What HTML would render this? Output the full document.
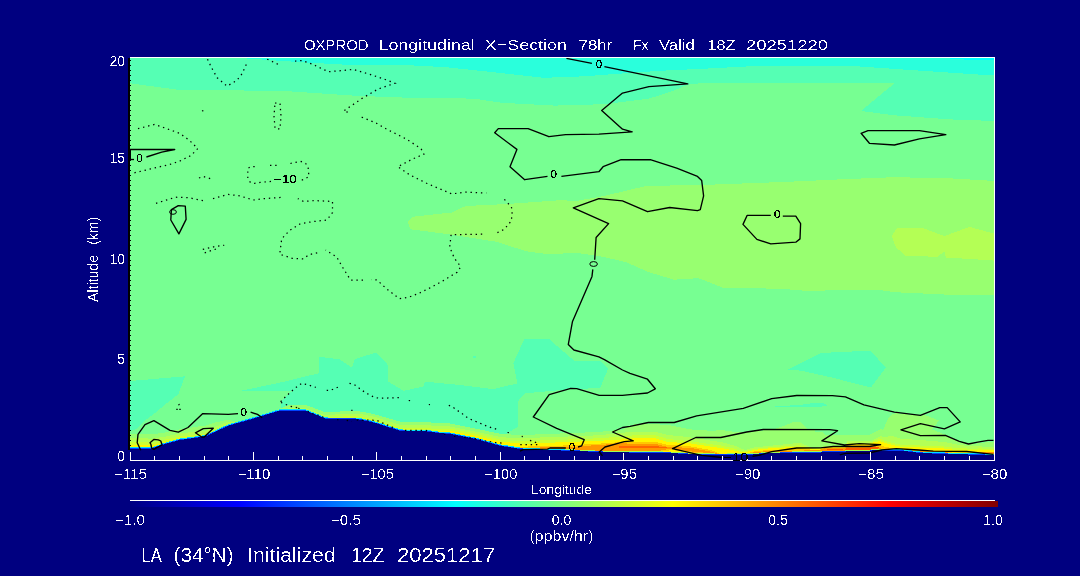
<!DOCTYPE html>
<html><head><meta charset="utf-8"><title>OXPROD</title>
<style>html,body{margin:0;padding:0;background:#000080;overflow:hidden}svg{display:block}text{font-family:"Liberation Sans",sans-serif}</style></head>
<body>
<svg width="1080" height="576" viewBox="0 0 1080 576">
<defs><clipPath id="pc"><rect x="130" y="58" width="864" height="402"/></clipPath>
<filter id="crisp" x="0" y="0" width="1080" height="576" filterUnits="userSpaceOnUse" color-interpolation-filters="sRGB"><feComponentTransfer><feFuncA type="discrete" tableValues="0 0 0 0 0 0 1 1 1 1"/></feComponentTransfer></filter>
<filter id="crisp2" x="0" y="0" width="1080" height="576" filterUnits="userSpaceOnUse" color-interpolation-filters="sRGB"><feComponentTransfer><feFuncA type="discrete" tableValues="0 0 0 1 1 1 1 1"/></feComponentTransfer></filter>
<linearGradient id="cb" x1="0" x2="1" y1="0" y2="0"><stop offset="0.000" stop-color="#000080"/><stop offset="0.025" stop-color="#000099"/><stop offset="0.050" stop-color="#0000B2"/><stop offset="0.075" stop-color="#0000CC"/><stop offset="0.100" stop-color="#0000E6"/><stop offset="0.125" stop-color="#0000FF"/><stop offset="0.150" stop-color="#001AFF"/><stop offset="0.175" stop-color="#0033FF"/><stop offset="0.200" stop-color="#004DFF"/><stop offset="0.225" stop-color="#0066FF"/><stop offset="0.250" stop-color="#0080FF"/><stop offset="0.275" stop-color="#0099FF"/><stop offset="0.300" stop-color="#00B2FF"/><stop offset="0.325" stop-color="#00CCFF"/><stop offset="0.350" stop-color="#00E5FF"/><stop offset="0.375" stop-color="#00FFFF"/><stop offset="0.400" stop-color="#1AFFE5"/><stop offset="0.425" stop-color="#33FFCC"/><stop offset="0.450" stop-color="#4DFFB2"/><stop offset="0.475" stop-color="#66FF99"/><stop offset="0.500" stop-color="#80FF80"/><stop offset="0.525" stop-color="#99FF66"/><stop offset="0.550" stop-color="#B3FF4C"/><stop offset="0.575" stop-color="#CCFF33"/><stop offset="0.600" stop-color="#E5FF1A"/><stop offset="0.625" stop-color="#FFFF00"/><stop offset="0.650" stop-color="#FFE500"/><stop offset="0.675" stop-color="#FFCC00"/><stop offset="0.700" stop-color="#FFB300"/><stop offset="0.725" stop-color="#FF9900"/><stop offset="0.750" stop-color="#FF8000"/><stop offset="0.775" stop-color="#FF6600"/><stop offset="0.800" stop-color="#FF4C00"/><stop offset="0.825" stop-color="#FF3300"/><stop offset="0.850" stop-color="#FF1A00"/><stop offset="0.875" stop-color="#FF0000"/><stop offset="0.900" stop-color="#E50000"/><stop offset="0.925" stop-color="#CC0000"/><stop offset="0.950" stop-color="#B30000"/><stop offset="0.975" stop-color="#990000"/><stop offset="1.000" stop-color="#800000"/></linearGradient></defs>
<rect width="1080" height="576" fill="#000080"/>
<g clip-path="url(#pc)" shape-rendering="crispEdges">
<rect x="130" y="57" width="865" height="404" fill="#77FF92"/>
<polygon points="130.0,57.0 130.0,83.3 179.7,90.0 281.0,90.8 356.0,95.8 410.0,97.8 473.9,98.6 501.7,102.8 554.4,105.6 604.4,104.2 648.9,98.6 671.0,91.7 687.8,84.7 700.0,83.3 894.4,83.3 861.0,111.0 894.4,115.3 950.0,119.4 995.0,121.0 995.0,57.0" fill="#55FFB4"/>
<polygon points="225.5,57.0 297.8,62.0 356.0,65.3 410.0,65.3 446.0,67.2 493.3,72.2 543.3,77.8 582.2,76.4 621.0,73.6 660.0,70.8 700.0,68.9 755.6,66.0 852.8,66.0 922.2,70.8 995.0,75.6 995.0,57.0" fill="#2AFFDC"/>
<polygon points="943.0,58.0 995.0,58.0 995.0,60.2 965.0,59.6" fill="#00FFFF"/>
<polygon points="408.0,222.0 412.8,216.7 451.7,212.5 465.6,206.0 507.0,204.0 562.8,200.0 573.9,201.4 604.0,196.0 646.0,186.0 710.0,184.7 783.0,182.0 844.0,179.2 894.0,177.2 950.0,178.3 995.0,181.0 995.0,295.3 961.0,295.3 894.4,292.2 877.8,289.7 805.6,290.8 783.3,288.9 722.2,287.5 700.0,278.6 696.0,278.3 673.9,279.7 648.9,272.2 626.7,262.5 604.4,257.0 576.7,252.8 548.9,254.2 526.7,251.4 496.0,241.7 451.7,234.7 410.0,229.2" fill="#98FF70"/>
<polygon points="891.7,236.1 897.2,227.8 922.2,227.8 944.4,236.1 969.4,226.9 995.0,233.9 995.0,260.6 945.8,257.5 944.4,251.4 937.5,256.9 905.6,255.6 895.8,247.2" fill="#B4FF55"/>
<polygon points="130.0,381.0 185.0,376.3 178.3,394.2 166.7,403.3 156.7,411.7 146.0,419.8 137.5,428.2 130.0,431.5" fill="#55FFB4"/>
<polygon points="240.8,390.8 278.3,383.0 318.6,373.3 318.6,356.7 339.4,359.4 352.0,367.8 354.7,359.4 375.6,352.5 388.0,365.0 388.3,381.7 403.3,390.8 423.3,386.7 425.0,381.7 460.0,385.0 493.3,389.2 517.5,383.3 513.3,363.3 524.2,339.2 549.2,339.2 574.2,360.8 600.0,360.8 608.3,368.3 600.0,388.3 576.7,388.7 550.0,391.0 525.0,393.3 517.5,401.7 518.3,426.7 506.7,433.3 500.0,452.0 281.0,452.0 281.0,401.0 290.0,392.0 295.0,390.5" fill="#55FFB4"/>
<polygon points="788.3,369.5 820.8,353.0 858.3,351.2 870.8,351.2 885.8,367.5 870.8,387.5 831.7,377.5 801.7,370.8" fill="#55FFB4"/>
<polygon points="473.0,356.0 476.5,355.5 476.0,357.5 473.5,357.5" fill="#55FFB4"/>
<polygon points="775.0,406.0 796.7,405.3 815.0,402.8 822.5,402.8 827.5,405.3 821.7,406.7 796.7,407.0 775.0,406.7" fill="#55FFB4"/>
<polygon points="743.0,441.3 753.0,441.5 752.0,443.0 744.0,443.0" fill="#55FFB4"/>
<polygon points="870.0,436.0 883.3,429.5 888.3,417.8 892.0,414.0 896.3,413.2 919.4,415.7 925.3,415.2 938.9,420.5 932.0,429.3 943.7,434.1 958.3,441.9 968.0,444.3 977.7,443.4 995.0,441.4 995.0,457.0 870.0,457.0" fill="#98FF70"/>
<polygon points="772.0,430.0 786.0,425.0 795.0,421.5 801.0,422.5 808.0,429.0 815.0,430.0 815.0,450.0 772.0,450.0" fill="#98FF70"/>
<polygon points="130.0,449.5 132.5,449.5 135.0,449.5 137.5,449.6 140.0,449.6 142.5,449.6 145.0,449.6 147.5,449.7 150.0,449.7 152.5,449.4 155.0,448.6 157.5,447.7 160.0,446.9 162.5,446.0 165.0,445.2 167.5,444.5 170.0,443.8 172.5,443.1 175.0,442.4 177.5,441.7 180.0,441.0 182.5,440.7 185.0,440.3 187.5,440.0 190.0,439.6 192.5,439.3 195.0,439.0 197.5,438.6 200.0,438.3 202.5,438.0 205.0,437.7 207.5,436.5 210.0,435.4 212.5,434.2 215.0,433.0 217.5,431.9 220.0,430.7 222.5,429.5 225.0,428.3 227.5,427.2 230.0,426.3 232.5,425.6 235.0,424.9 237.5,424.2 240.0,423.5 242.5,422.8 245.0,422.1 247.5,421.4 250.0,420.7 252.5,420.0 255.0,419.2 257.5,418.5 260.0,417.8 262.5,417.0 265.0,416.3 267.5,415.5 270.0,414.7 272.5,413.9 275.0,413.1 277.5,412.3 280.0,411.9 282.5,411.9 285.0,411.8 287.5,411.7 290.0,411.7 292.5,411.6 295.0,411.6 297.5,411.6 300.0,411.6 302.5,411.6 305.0,411.6 307.5,412.6 310.0,413.6 312.5,414.6 315.0,415.6 317.5,416.6 320.0,417.7 322.5,418.7 325.0,419.7 327.5,420.0 330.0,420.0 332.5,420.0 335.0,420.0 337.5,420.0 340.0,420.0 342.5,420.0 345.0,420.0 347.5,420.0 350.0,420.0 352.5,420.0 355.0,420.0 357.5,420.2 360.0,420.7 362.5,421.2 365.0,421.8 367.5,422.3 370.0,422.8 372.5,423.3 375.0,424.0 377.5,424.8 380.0,425.6 382.5,426.3 385.0,427.1 387.5,427.9 390.0,428.7 392.5,429.4 395.0,430.2 397.5,431.0 400.0,431.8 402.5,432.0 405.0,432.1 407.5,432.1 410.0,432.1 412.5,432.2 415.0,432.2 417.5,432.3 420.0,432.3 422.5,432.3 425.0,432.4 427.5,432.5 430.0,432.8 432.5,433.2 435.0,433.5 437.5,433.9 440.0,434.2 442.5,434.4 445.0,434.6 447.5,434.8 450.0,435.0 452.5,435.5 455.0,436.0 457.5,436.5 460.0,437.0 462.5,437.5 465.0,438.0 467.5,438.5 470.0,439.0 472.5,439.5 475.0,440.0 477.5,440.7 480.0,441.4 482.5,442.0 485.0,442.7 487.5,443.4 490.0,444.1 492.5,444.8 495.0,445.4 497.5,446.1 500.0,446.8 502.5,447.2 505.0,447.6 507.5,448.0 510.0,448.4 512.5,448.8 515.0,449.2 517.5,449.6 520.0,450.0 522.5,450.1 525.0,450.2 527.5,450.4 530.0,450.5 532.5,450.6 535.0,450.8 537.5,450.9 540.0,451.0 542.5,451.1 545.0,451.1 547.5,451.2 550.0,451.2 552.5,451.3 555.0,451.4 557.5,451.4 560.0,451.5 562.5,451.5 565.0,451.6 567.5,451.7 570.0,451.7 572.5,451.8 575.0,451.9 577.5,452.0 580.0,452.1 582.5,452.3 585.0,452.4 587.5,452.5 590.0,452.6 592.5,452.7 595.0,452.9 597.5,453.0 600.0,453.0 602.5,453.1 605.0,453.1 607.5,453.2 610.0,453.2 612.5,453.2 615.0,453.3 617.5,453.3 620.0,453.4 622.5,453.4 625.0,453.4 627.5,453.5 630.0,453.5 632.5,453.6 635.0,453.6 637.5,453.7 640.0,453.7 642.5,453.7 645.0,453.7 647.5,453.8 650.0,453.8 652.5,453.8 655.0,453.8 657.5,453.8 660.0,453.8 662.5,453.9 665.0,453.9 667.5,453.9 670.0,454.0 672.5,454.2 675.0,454.3 677.5,454.5 680.0,454.7 682.5,454.8 685.0,455.0 687.5,455.1 690.0,455.3 692.5,455.4 695.0,455.4 697.5,455.5 700.0,455.5 702.5,455.6 705.0,455.6 707.5,455.7 710.0,455.8 712.5,455.8 715.0,455.9 717.5,455.9 720.0,456.0 722.5,456.0 725.0,455.9 727.5,455.9 730.0,455.8 732.5,455.8 735.0,455.8 737.5,455.7 740.0,455.7 742.5,455.7 745.0,455.6 747.5,455.6 750.0,455.5 752.5,455.5 755.0,455.4 757.5,455.2 760.0,455.0 762.5,454.8 765.0,454.7 767.5,454.5 770.0,454.3 772.5,454.2 775.0,454.2 777.5,454.2 780.0,454.1 782.5,454.1 785.0,454.0 787.5,453.9 790.0,453.9 792.5,453.9 795.0,453.8 797.5,453.8 800.0,453.8 802.5,453.8 805.0,453.8 807.5,453.8 810.0,453.8 812.5,453.8 815.0,453.8 817.5,453.8 820.0,453.8 822.5,453.0 825.0,453.0 827.5,453.0 830.0,453.0 832.5,453.0 835.0,453.0 837.5,453.0 840.0,453.0 842.5,453.0 845.0,453.0 847.5,452.2 850.0,452.2 852.5,452.2 855.0,452.2 857.5,452.2 860.0,452.2 862.5,452.2 865.0,452.2 867.5,452.2 870.0,452.2 872.5,451.3 875.0,451.3 877.5,451.3 880.0,451.3 882.5,451.7 885.0,451.8 887.5,451.7 890.0,451.7 892.5,451.7 895.0,451.7 897.5,451.6 900.0,451.6 902.5,451.9 905.0,452.2 907.5,452.5 910.0,452.8 912.5,453.1 915.0,453.4 917.5,453.7 920.0,454.0 922.5,454.1 925.0,454.2 927.5,454.3 930.0,454.4 932.5,454.5 935.0,454.6 937.5,454.7 940.0,454.8 942.5,454.9 945.0,455.0 947.5,455.1 950.0,455.1 952.5,455.2 955.0,455.2 957.5,455.3 960.0,455.3 962.5,455.4 965.0,455.4 967.5,455.5 970.0,455.6 972.5,455.7 975.0,455.8 977.5,455.9 980.0,455.9 982.5,456.0 985.0,456.1 987.5,456.2 990.0,456.3 992.5,456.4 995.0,456.5 995.0,441.5 992.5,441.8 990.0,442.1 987.5,442.5 985.0,442.8 982.5,443.1 980.0,443.4 977.5,443.6 975.0,443.8 972.5,444.0 970.0,444.2 967.5,444.2 965.0,443.5 962.5,442.9 960.0,442.3 957.5,441.5 955.0,440.1 952.5,438.7 950.0,437.3 947.5,435.9 945.0,434.6 942.5,433.9 940.0,433.8 937.5,433.7 935.0,433.6 932.5,433.5 930.0,433.4 927.5,433.3 925.0,433.2 922.5,433.1 920.0,433.0 917.5,432.7 915.0,432.4 912.5,432.1 910.0,431.8 907.5,431.5 905.0,431.2 902.5,430.9 900.0,430.6 897.5,429.9 895.0,429.2 892.5,428.7 890.0,428.9 887.5,429.2 885.0,429.4 882.5,429.5 880.0,429.3 877.5,430.6 875.0,432.0 872.5,433.3 870.0,434.5 867.5,434.5 865.0,434.5 862.5,434.5 860.0,434.5 857.5,434.5 855.0,434.5 852.5,434.5 850.0,434.5 847.5,434.5 845.0,434.5 842.5,434.5 840.0,434.5 837.5,434.5 835.0,434.5 832.5,434.5 830.0,434.5 827.5,434.5 825.0,434.5 822.5,431.9 820.0,431.8 817.5,431.8 815.0,431.8 812.5,431.8 810.0,431.3 807.5,430.7 805.0,430.1 802.5,429.4 800.0,428.8 797.5,428.8 795.0,428.9 792.5,429.0 790.0,429.1 787.5,429.2 785.0,429.2 782.5,429.3 780.0,429.4 777.5,429.5 775.0,429.6 772.5,429.7 770.0,429.8 767.5,430.1 765.0,430.3 762.5,430.5 760.0,430.8 757.5,431.1 755.0,431.3 752.5,431.6 750.0,431.9 747.5,432.3 745.0,432.6 742.5,432.4 740.0,432.2 737.5,432.0 735.0,431.8 732.5,431.5 730.0,431.1 727.5,430.8 725.0,430.5 722.5,430.2 720.0,430.1 717.5,430.3 715.0,430.6 712.5,430.8 710.0,430.7 707.5,430.5 705.0,430.3 702.5,430.2 700.0,430.0 697.5,429.8 695.0,429.6 692.5,429.5 690.0,429.3 687.5,428.8 685.0,428.3 682.5,427.8 680.0,427.3 677.5,426.8 675.0,426.3 672.5,425.8 670.0,425.3 667.5,424.9 665.0,424.8 662.5,424.6 660.0,424.5 657.5,424.4 655.0,424.3 652.5,424.3 650.0,424.3 647.5,424.3 645.0,424.2 642.5,424.2 640.0,424.2 637.5,424.2 635.0,424.1 632.5,425.2 630.0,426.3 627.5,427.4 625.0,428.5 622.5,429.5 620.0,429.7 617.5,430.0 615.0,430.2 612.5,430.5 610.0,430.8 607.5,431.0 605.0,431.3 602.5,431.5 600.0,431.8 597.5,432.0 595.0,432.1 592.5,432.2 590.0,432.3 587.5,432.4 585.0,432.5 582.5,432.6 580.0,432.7 577.5,432.8 575.0,432.9 572.5,433.0 570.0,433.1 567.5,433.2 565.0,433.3 562.5,433.4 560.0,433.5 557.5,433.6 555.0,433.7 552.5,433.7 550.0,433.8 547.5,433.9 545.0,434.0 542.5,434.1 540.0,434.2 537.5,434.4 535.0,434.5 532.5,434.7 530.0,434.7 527.5,434.8 525.0,434.9 522.5,434.9 520.0,435.0 517.5,434.9 515.0,434.7 512.5,434.6 510.0,434.4 507.5,434.2 505.0,434.1 502.5,433.9 500.0,433.8 497.5,433.3 495.0,432.7 492.5,432.2 490.0,431.7 487.5,431.1 485.0,430.6 482.5,430.1 480.0,429.6 477.5,429.0 475.0,428.5 472.5,428.0 470.0,427.5 467.5,427.0 465.0,426.5 462.5,426.0 460.0,425.5 457.5,425.0 455.0,424.5 452.5,424.0 450.0,423.5 447.5,423.4 445.0,423.4 442.5,423.3 440.0,423.3 437.5,423.1 435.0,422.9 432.5,422.7 430.0,422.4 427.5,422.0 425.0,421.9 422.5,421.9 420.0,421.9 417.5,421.9 415.0,421.9 412.5,421.8 410.0,421.8 407.5,421.8 405.0,421.8 402.5,421.8 400.0,421.6 397.5,420.9 395.0,420.2 392.5,419.4 390.0,418.7 387.5,418.0 385.0,417.3 382.5,416.6 380.0,415.9 377.5,415.1 375.0,414.4 372.5,413.8 370.0,413.3 367.5,412.9 365.0,412.4 362.5,412.0 360.0,411.5 357.5,411.1 355.0,411.0 352.5,411.1 350.0,411.2 347.5,411.2 345.0,411.3 342.5,411.4 340.0,411.5 337.5,411.7 335.0,411.8 332.5,412.0 330.0,412.2 327.5,412.3 325.0,412.2 322.5,411.2 320.0,410.3 317.5,409.3 315.0,408.4 312.5,407.4 310.0,406.5 307.5,405.5 305.0,404.6 302.5,404.6 300.0,404.6 297.5,404.6 295.0,404.6 292.5,404.6 290.0,404.7 287.5,405.7 285.0,406.7 282.5,407.7 280.0,408.7 277.5,409.8 275.0,410.9 272.5,411.9 270.0,413.0 267.5,414.0 265.0,415.1 262.5,416.0 260.0,416.6 257.5,417.3 255.0,417.9 252.5,418.5 250.0,419.1 247.5,419.7 245.0,420.3 242.5,420.9 240.0,421.5 237.5,421.2 235.0,420.9 232.5,420.6 230.0,420.3 227.5,420.2 225.0,420.3 222.5,420.9 220.0,421.4 217.5,422.0 215.0,422.5 212.5,423.2 210.0,424.1 207.5,425.1 205.0,426.1 202.5,426.2 200.0,426.3 197.5,426.6 195.0,427.0 192.5,427.4 190.0,427.7 187.5,428.1 185.0,428.5 182.5,428.8 180.0,429.2 177.5,429.8 175.0,430.3 172.5,430.9 170.0,431.4 167.5,431.9 165.0,432.5 162.5,432.8 160.0,433.1 157.5,433.5 155.0,433.8 152.5,434.3 150.0,434.4 147.5,434.2 145.0,434.0 142.5,433.8 140.0,433.6 137.5,433.6 135.0,433.5 132.5,433.5 130.0,433.5" fill="#98FF70"/>
<polygon points="130.0,449.5 132.5,449.5 135.0,449.5 137.5,449.6 140.0,449.6 142.5,449.6 145.0,449.6 147.5,449.7 150.0,449.7 152.5,449.4 155.0,448.6 157.5,447.7 160.0,446.9 162.5,446.0 165.0,445.2 167.5,444.5 170.0,443.8 172.5,443.1 175.0,442.4 177.5,441.7 180.0,441.0 182.5,440.7 185.0,440.3 187.5,440.0 190.0,439.6 192.5,439.3 195.0,439.0 197.5,438.6 200.0,438.3 202.5,438.0 205.0,437.7 207.5,436.5 210.0,435.4 212.5,434.2 215.0,433.0 217.5,431.9 220.0,430.7 222.5,429.5 225.0,428.3 227.5,427.2 230.0,426.3 232.5,425.6 235.0,424.9 237.5,424.2 240.0,423.5 242.5,422.8 245.0,422.1 247.5,421.4 250.0,420.7 252.5,420.0 255.0,419.2 257.5,418.5 260.0,417.8 262.5,417.0 265.0,416.3 267.5,415.5 270.0,414.7 272.5,413.9 275.0,413.1 277.5,412.3 280.0,411.9 282.5,411.9 285.0,411.8 287.5,411.7 290.0,411.7 292.5,411.6 295.0,411.6 297.5,411.6 300.0,411.6 302.5,411.6 305.0,411.6 307.5,412.6 310.0,413.6 312.5,414.6 315.0,415.6 317.5,416.6 320.0,417.7 322.5,418.7 325.0,419.7 327.5,420.0 330.0,420.0 332.5,420.0 335.0,420.0 337.5,420.0 340.0,420.0 342.5,420.0 345.0,420.0 347.5,420.0 350.0,420.0 352.5,420.0 355.0,420.0 357.5,420.2 360.0,420.7 362.5,421.2 365.0,421.8 367.5,422.3 370.0,422.8 372.5,423.3 375.0,424.0 377.5,424.8 380.0,425.6 382.5,426.3 385.0,427.1 387.5,427.9 390.0,428.7 392.5,429.4 395.0,430.2 397.5,431.0 400.0,431.8 402.5,432.0 405.0,432.1 407.5,432.1 410.0,432.1 412.5,432.2 415.0,432.2 417.5,432.3 420.0,432.3 422.5,432.3 425.0,432.4 427.5,432.5 430.0,432.8 432.5,433.2 435.0,433.5 437.5,433.9 440.0,434.2 442.5,434.4 445.0,434.6 447.5,434.8 450.0,435.0 452.5,435.5 455.0,436.0 457.5,436.5 460.0,437.0 462.5,437.5 465.0,438.0 467.5,438.5 470.0,439.0 472.5,439.5 475.0,440.0 477.5,440.7 480.0,441.4 482.5,442.0 485.0,442.7 487.5,443.4 490.0,444.1 492.5,444.8 495.0,445.4 497.5,446.1 500.0,446.8 502.5,447.2 505.0,447.6 507.5,448.0 510.0,448.4 512.5,448.8 515.0,449.2 517.5,449.6 520.0,450.0 522.5,450.1 525.0,450.2 527.5,450.4 530.0,450.5 532.5,450.6 535.0,450.8 537.5,450.9 540.0,451.0 542.5,451.1 545.0,451.1 547.5,451.2 550.0,451.2 552.5,451.3 555.0,451.4 557.5,451.4 560.0,451.5 562.5,451.5 565.0,451.6 567.5,451.7 570.0,451.7 572.5,451.8 575.0,451.9 577.5,452.0 580.0,452.1 582.5,452.3 585.0,452.4 587.5,452.5 590.0,452.6 592.5,452.7 595.0,452.9 597.5,453.0 600.0,453.0 602.5,453.1 605.0,453.1 607.5,453.2 610.0,453.2 612.5,453.2 615.0,453.3 617.5,453.3 620.0,453.4 622.5,453.4 625.0,453.4 627.5,453.5 630.0,453.5 632.5,453.6 635.0,453.6 637.5,453.7 640.0,453.7 642.5,453.7 645.0,453.7 647.5,453.8 650.0,453.8 652.5,453.8 655.0,453.8 657.5,453.8 660.0,453.8 662.5,453.9 665.0,453.9 667.5,453.9 670.0,454.0 672.5,454.2 675.0,454.3 677.5,454.5 680.0,454.7 682.5,454.8 685.0,455.0 687.5,455.1 690.0,455.3 692.5,455.4 695.0,455.4 697.5,455.5 700.0,455.5 702.5,455.6 705.0,455.6 707.5,455.7 710.0,455.8 712.5,455.8 715.0,455.9 717.5,455.9 720.0,456.0 722.5,456.0 725.0,455.9 727.5,455.9 730.0,455.8 732.5,455.8 735.0,455.8 737.5,455.7 740.0,455.7 742.5,455.7 745.0,455.6 747.5,455.6 750.0,455.5 752.5,455.5 755.0,455.4 757.5,455.2 760.0,455.0 762.5,454.8 765.0,454.7 767.5,454.5 770.0,454.3 772.5,454.2 775.0,454.2 777.5,454.2 780.0,454.1 782.5,454.1 785.0,454.0 787.5,453.9 790.0,453.9 792.5,453.9 795.0,453.8 797.5,453.8 800.0,453.8 802.5,453.8 805.0,453.8 807.5,453.8 810.0,453.8 812.5,453.8 815.0,453.8 817.5,453.8 820.0,453.8 822.5,453.0 825.0,453.0 827.5,453.0 830.0,453.0 832.5,453.0 835.0,453.0 837.5,453.0 840.0,453.0 842.5,453.0 845.0,453.0 847.5,452.2 850.0,452.2 852.5,452.2 855.0,452.2 857.5,452.2 860.0,452.2 862.5,452.2 865.0,452.2 867.5,452.2 870.0,452.2 872.5,451.3 875.0,451.3 877.5,451.3 880.0,451.3 882.5,451.7 885.0,451.8 887.5,451.7 890.0,451.7 892.5,451.7 895.0,451.7 897.5,451.6 900.0,451.6 902.5,451.9 905.0,452.2 907.5,452.5 910.0,452.8 912.5,453.1 915.0,453.4 917.5,453.7 920.0,454.0 922.5,454.1 925.0,454.2 927.5,454.3 930.0,454.4 932.5,454.5 935.0,454.6 937.5,454.7 940.0,454.8 942.5,454.9 945.0,455.0 947.5,455.1 950.0,455.1 952.5,455.2 955.0,455.2 957.5,455.3 960.0,455.3 962.5,455.4 965.0,455.4 967.5,455.5 970.0,455.6 972.5,455.7 975.0,455.8 977.5,455.9 980.0,455.9 982.5,456.0 985.0,456.1 987.5,456.2 990.0,456.3 992.5,456.4 995.0,456.5 995.0,446.5 992.5,446.5 990.0,446.5 987.5,446.5 985.0,446.5 982.5,446.5 980.0,446.4 977.5,446.4 975.0,446.3 972.5,446.2 970.0,446.1 967.5,445.9 965.0,445.6 962.5,445.3 960.0,445.0 957.5,444.7 955.0,444.2 952.5,443.7 950.0,443.2 947.5,442.7 945.0,442.2 942.5,441.9 940.0,441.7 937.5,441.5 935.0,441.2 932.5,441.0 930.0,440.8 927.5,440.6 925.0,440.4 922.5,440.2 920.0,440.0 917.5,439.8 915.0,439.6 912.5,439.5 910.0,439.3 907.5,439.1 905.0,439.0 902.5,438.8 900.0,438.6 897.5,437.7 895.0,436.9 892.5,436.2 890.0,436.3 887.5,436.5 885.0,436.6 882.5,436.6 880.0,436.3 877.5,437.6 875.0,438.8 872.5,440.1 870.0,441.2 867.5,441.2 865.0,441.2 862.5,441.2 860.0,441.2 857.5,441.2 855.0,441.2 852.5,441.2 850.0,441.2 847.5,441.2 845.0,445.5 842.5,445.5 840.0,445.5 837.5,445.5 835.0,445.5 832.5,445.5 830.0,445.5 827.5,445.5 825.0,445.5 822.5,446.6 820.0,447.8 817.5,447.8 815.0,447.8 812.5,447.8 810.0,447.0 807.5,445.9 805.0,444.9 802.5,443.8 800.0,442.8 797.5,443.0 795.0,443.2 792.5,443.5 790.0,443.7 787.5,444.0 785.0,444.2 782.5,444.5 780.0,444.8 777.5,445.0 775.0,445.3 772.5,445.5 770.0,445.8 767.5,446.1 765.0,446.3 762.5,446.6 760.0,446.8 757.5,447.1 755.0,447.3 752.5,447.7 750.0,448.5 747.5,449.3 745.0,450.1 742.5,449.0 740.0,447.9 737.5,446.9 735.0,445.8 732.5,445.1 730.0,444.4 727.5,443.7 725.0,443.1 722.5,442.4 720.0,441.9 717.5,441.6 715.0,441.2 712.5,440.9 710.0,440.5 707.5,440.1 705.0,439.7 702.5,439.3 700.0,438.9 697.5,438.5 695.0,438.1 692.5,437.7 690.0,437.3 687.5,437.0 685.0,436.8 682.5,436.5 680.0,436.2 677.5,435.9 675.0,435.7 672.5,435.4 670.0,435.1 667.5,434.8 665.0,434.2 662.5,433.6 660.0,433.0 657.5,432.4 655.0,431.8 652.5,431.8 650.0,431.8 647.5,431.8 645.0,431.7 642.5,431.7 640.0,431.7 637.5,431.7 635.0,431.6 632.5,431.8 630.0,432.1 627.5,432.3 625.0,432.5 622.5,432.8 620.0,433.0 617.5,433.3 615.0,433.5 612.5,433.8 610.0,434.1 607.5,434.3 605.0,434.6 602.5,434.8 600.0,435.1 597.5,435.3 595.0,435.4 592.5,435.5 590.0,435.6 587.5,435.7 585.0,435.8 582.5,435.9 580.0,436.0 577.5,436.1 575.0,436.2 572.5,436.3 570.0,436.4 567.5,436.5 565.0,436.6 562.5,436.7 560.0,436.8 557.5,436.9 555.0,437.0 552.5,437.0 550.0,437.1 547.5,437.2 545.0,437.3 542.5,437.4 540.0,437.5 537.5,437.7 535.0,438.0 532.5,438.2 530.0,438.2 527.5,438.3 525.0,438.4 522.5,438.4 520.0,438.5 517.5,438.3 515.0,438.1 512.5,437.9 510.0,437.8 507.5,437.6 505.0,437.4 502.5,437.2 500.0,437.0 497.5,436.4 495.0,435.9 492.5,435.3 490.0,434.8 487.5,434.2 485.0,433.7 482.5,433.2 480.0,432.6 477.5,432.1 475.0,431.5 472.5,431.0 470.0,430.5 467.5,430.0 465.0,429.5 462.5,429.0 460.0,428.5 457.5,428.0 455.0,427.5 452.5,427.0 450.0,426.5 447.5,426.4 445.0,426.4 442.5,426.3 440.0,426.3 437.5,426.1 435.0,425.9 432.5,425.7 430.0,425.4 427.5,425.1 425.0,425.0 422.5,425.0 420.0,425.0 417.5,425.0 415.0,425.1 412.5,425.1 410.0,425.1 407.5,425.1 405.0,425.1 402.5,425.0 400.0,424.8 397.5,424.0 395.0,423.2 392.5,422.4 390.0,421.7 387.5,420.9 385.0,420.1 382.5,419.3 380.0,418.6 377.5,417.8 375.0,417.0 372.5,416.3 370.0,415.8 367.5,415.4 365.0,414.9 362.5,414.5 360.0,414.0 357.5,413.6 355.0,413.5 352.5,413.6 350.0,413.7 347.5,413.8 345.0,413.8 342.5,413.9 340.0,414.0 337.5,414.2 335.0,414.5 332.5,414.8 330.0,415.0 327.5,415.2 325.0,415.2 322.5,414.3 320.0,413.4 317.5,412.5 315.0,411.6 312.5,410.8 310.0,409.9 307.5,409.0 305.0,408.1 302.5,408.1 300.0,408.1 297.5,408.1 295.0,408.1 292.5,408.1 290.0,408.2 287.5,408.6 285.0,409.1 282.5,409.6 280.0,410.1 277.5,410.8 275.0,411.7 272.5,412.5 270.0,413.4 267.5,414.3 265.0,415.2 262.5,416.0 260.0,416.7 257.5,417.4 255.0,418.1 252.5,418.7 250.0,419.4 247.5,420.0 245.0,420.7 242.5,421.3 240.0,422.0 237.5,422.0 235.0,422.1 232.5,422.1 230.0,422.2 227.5,422.3 225.0,422.8 222.5,423.9 220.0,425.0 217.5,426.0 215.0,427.1 212.5,428.1 210.0,429.1 207.5,430.0 205.0,431.0 202.5,431.0 200.0,431.1 197.5,431.3 195.0,431.6 192.5,431.9 190.0,432.2 187.5,432.5 185.0,432.7 182.5,433.0 180.0,433.3 177.5,433.9 175.0,434.4 172.5,435.0 170.0,435.6 167.5,436.1 165.0,436.7 162.5,437.1 160.0,437.4 157.5,437.8 155.0,438.2 152.5,438.7 150.0,438.7 147.5,438.4 145.0,438.1 142.5,437.9 140.0,437.6 137.5,437.6 135.0,437.5 132.5,437.5 130.0,437.5" fill="#B4FF55"/>
<polygon points="130.0,449.5 132.5,449.5 135.0,449.5 137.5,449.6 140.0,449.6 142.5,449.6 145.0,449.6 147.5,449.7 150.0,449.7 152.5,449.4 155.0,448.6 157.5,447.7 160.0,446.9 162.5,446.0 165.0,445.2 167.5,444.5 170.0,443.8 172.5,443.1 175.0,442.4 177.5,441.7 180.0,441.0 182.5,440.7 185.0,440.3 187.5,440.0 190.0,439.6 192.5,439.3 195.0,439.0 197.5,438.6 200.0,438.3 202.5,438.0 205.0,437.7 207.5,436.5 210.0,435.4 212.5,434.2 215.0,433.0 217.5,431.9 220.0,430.7 222.5,429.5 225.0,428.3 227.5,427.2 230.0,426.3 232.5,425.6 235.0,424.9 237.5,424.2 240.0,423.5 242.5,422.8 245.0,422.1 247.5,421.4 250.0,420.7 252.5,420.0 255.0,419.2 257.5,418.5 260.0,417.8 262.5,417.0 265.0,416.3 267.5,415.5 270.0,414.7 272.5,413.9 275.0,413.1 277.5,412.3 280.0,411.9 282.5,411.9 285.0,411.8 287.5,411.7 290.0,411.7 292.5,411.6 295.0,411.6 297.5,411.6 300.0,411.6 302.5,411.6 305.0,411.6 307.5,412.6 310.0,413.6 312.5,414.6 315.0,415.6 317.5,416.6 320.0,417.7 322.5,418.7 325.0,419.7 327.5,420.0 330.0,420.0 332.5,420.0 335.0,420.0 337.5,420.0 340.0,420.0 342.5,420.0 345.0,420.0 347.5,420.0 350.0,420.0 352.5,420.0 355.0,420.0 357.5,420.2 360.0,420.7 362.5,421.2 365.0,421.8 367.5,422.3 370.0,422.8 372.5,423.3 375.0,424.0 377.5,424.8 380.0,425.6 382.5,426.3 385.0,427.1 387.5,427.9 390.0,428.7 392.5,429.4 395.0,430.2 397.5,431.0 400.0,431.8 402.5,432.0 405.0,432.1 407.5,432.1 410.0,432.1 412.5,432.2 415.0,432.2 417.5,432.3 420.0,432.3 422.5,432.3 425.0,432.4 427.5,432.5 430.0,432.8 432.5,433.2 435.0,433.5 437.5,433.9 440.0,434.2 442.5,434.4 445.0,434.6 447.5,434.8 450.0,435.0 452.5,435.5 455.0,436.0 457.5,436.5 460.0,437.0 462.5,437.5 465.0,438.0 467.5,438.5 470.0,439.0 472.5,439.5 475.0,440.0 477.5,440.7 480.0,441.4 482.5,442.0 485.0,442.7 487.5,443.4 490.0,444.1 492.5,444.8 495.0,445.4 497.5,446.1 500.0,446.8 502.5,447.2 505.0,447.6 507.5,448.0 510.0,448.4 512.5,448.8 515.0,449.2 517.5,449.6 520.0,450.0 522.5,450.1 525.0,450.2 527.5,450.4 530.0,450.5 532.5,450.6 535.0,450.8 537.5,450.9 540.0,451.0 542.5,451.1 545.0,451.1 547.5,451.2 550.0,451.2 552.5,451.3 555.0,451.4 557.5,451.4 560.0,451.5 562.5,451.5 565.0,451.6 567.5,451.7 570.0,451.7 572.5,451.8 575.0,451.9 577.5,452.0 580.0,452.1 582.5,452.3 585.0,452.4 587.5,452.5 590.0,452.6 592.5,452.7 595.0,452.9 597.5,453.0 600.0,453.0 602.5,453.1 605.0,453.1 607.5,453.2 610.0,453.2 612.5,453.2 615.0,453.3 617.5,453.3 620.0,453.4 622.5,453.4 625.0,453.4 627.5,453.5 630.0,453.5 632.5,453.6 635.0,453.6 637.5,453.7 640.0,453.7 642.5,453.7 645.0,453.7 647.5,453.8 650.0,453.8 652.5,453.8 655.0,453.8 657.5,453.8 660.0,453.8 662.5,453.9 665.0,453.9 667.5,453.9 670.0,454.0 672.5,454.2 675.0,454.3 677.5,454.5 680.0,454.7 682.5,454.8 685.0,455.0 687.5,455.1 690.0,455.3 692.5,455.4 695.0,455.4 697.5,455.5 700.0,455.5 702.5,455.6 705.0,455.6 707.5,455.7 710.0,455.8 712.5,455.8 715.0,455.9 717.5,455.9 720.0,456.0 722.5,456.0 725.0,455.9 727.5,455.9 730.0,455.8 732.5,455.8 735.0,455.8 737.5,455.7 740.0,455.7 742.5,455.7 745.0,455.6 747.5,455.6 750.0,455.5 752.5,455.5 755.0,455.4 757.5,455.2 760.0,455.0 762.5,454.8 765.0,454.7 767.5,454.5 770.0,454.3 772.5,454.2 775.0,454.2 777.5,454.2 780.0,454.1 782.5,454.1 785.0,454.0 787.5,453.9 790.0,453.9 792.5,453.9 795.0,453.8 797.5,453.8 800.0,453.8 802.5,453.8 805.0,453.8 807.5,453.8 810.0,453.8 812.5,453.8 815.0,453.8 817.5,453.8 820.0,453.8 822.5,453.0 825.0,453.0 827.5,453.0 830.0,453.0 832.5,453.0 835.0,453.0 837.5,453.0 840.0,453.0 842.5,453.0 845.0,453.0 847.5,452.2 850.0,452.2 852.5,452.2 855.0,452.2 857.5,452.2 860.0,452.2 862.5,452.2 865.0,452.2 867.5,452.2 870.0,452.2 872.5,451.3 875.0,451.3 877.5,451.3 880.0,451.3 882.5,451.7 885.0,451.8 887.5,451.7 890.0,451.7 892.5,451.7 895.0,451.7 897.5,451.6 900.0,451.6 902.5,451.9 905.0,452.2 907.5,452.5 910.0,452.8 912.5,453.1 915.0,453.4 917.5,453.7 920.0,454.0 922.5,454.1 925.0,454.2 927.5,454.3 930.0,454.4 932.5,454.5 935.0,454.6 937.5,454.7 940.0,454.8 942.5,454.9 945.0,455.0 947.5,455.1 950.0,455.1 952.5,455.2 955.0,455.2 957.5,455.3 960.0,455.3 962.5,455.4 965.0,455.4 967.5,455.5 970.0,455.6 972.5,455.7 975.0,455.8 977.5,455.9 980.0,455.9 982.5,456.0 985.0,456.1 987.5,456.2 990.0,456.3 992.5,456.4 995.0,456.5 995.0,448.5 992.5,448.5 990.0,448.5 987.5,448.5 985.0,448.5 982.5,448.5 980.0,448.4 977.5,448.5 975.0,448.5 972.5,448.5 970.0,448.5 967.5,448.5 965.0,448.4 962.5,448.4 960.0,448.3 957.5,448.2 955.0,447.9 952.5,447.6 950.0,447.3 947.5,446.9 945.0,446.6 942.5,446.4 940.0,446.3 937.5,446.2 935.0,446.1 932.5,446.0 930.0,445.9 927.5,445.8 925.0,445.7 922.5,445.6 920.0,445.5 917.5,445.4 915.0,445.3 912.5,445.2 910.0,445.1 907.5,444.9 905.0,444.8 902.5,444.7 900.0,444.6 897.5,444.1 895.0,443.6 892.5,443.0 890.0,442.3 887.5,441.6 885.0,440.8 882.5,439.9 880.0,438.8 877.5,439.7 875.0,440.7 872.5,441.6 870.0,442.7 867.5,442.7 865.0,442.7 862.5,442.7 860.0,442.7 857.5,442.7 855.0,442.7 852.5,442.7 850.0,442.7 847.5,442.7 845.0,446.5 842.5,446.5 840.0,446.5 837.5,446.5 835.0,446.5 832.5,446.5 830.0,446.5 827.5,446.5 825.0,446.5 822.5,447.2 820.0,448.3 817.5,448.3 815.0,448.3 812.5,448.3 810.0,447.8 807.5,447.2 805.0,446.6 802.5,445.9 800.0,445.3 797.5,445.4 795.0,445.6 792.5,445.7 790.0,445.9 787.5,446.1 785.0,446.2 782.5,446.4 780.0,446.6 777.5,446.8 775.0,446.9 772.5,447.1 770.0,447.3 767.5,447.6 765.0,447.8 762.5,448.1 760.0,448.3 757.5,448.6 755.0,448.8 752.5,449.2 750.0,450.0 747.5,450.8 745.0,451.6 742.5,450.9 740.0,450.2 737.5,449.5 735.0,448.8 732.5,448.2 730.0,447.6 727.5,447.0 725.0,446.4 722.5,445.8 720.0,445.4 717.5,445.1 715.0,444.7 712.5,444.4 710.0,444.0 707.5,443.7 705.0,443.4 702.5,443.0 700.0,442.7 697.5,442.3 695.0,442.0 692.5,441.6 690.0,441.3 687.5,441.0 685.0,440.8 682.5,440.5 680.0,440.2 677.5,439.9 675.0,439.7 672.5,439.4 670.0,439.1 667.5,438.8 665.0,438.1 662.5,437.4 660.0,436.7 657.5,436.0 655.0,435.3 652.5,435.3 650.0,435.3 647.5,435.3 645.0,435.2 642.5,435.2 640.0,435.2 637.5,435.2 635.0,435.1 632.5,435.4 630.0,435.7 627.5,435.9 625.0,436.2 622.5,436.5 620.0,436.6 617.5,436.8 615.0,437.0 612.5,437.2 610.0,437.4 607.5,437.6 605.0,437.8 602.5,438.0 600.0,438.1 597.5,438.3 595.0,438.4 592.5,438.5 590.0,438.6 587.5,438.7 585.0,438.8 582.5,438.9 580.0,439.0 577.5,439.1 575.0,439.2 572.5,439.3 570.0,439.4 567.5,439.5 565.0,439.6 562.5,439.7 560.0,439.8 557.5,439.9 555.0,440.0 552.5,440.0 550.0,440.1 547.5,440.2 545.0,440.3 542.5,440.4 540.0,440.5 537.5,440.7 535.0,441.0 532.5,441.2 530.0,441.2 527.5,441.3 525.0,441.4 522.5,441.4 520.0,441.5 517.5,441.2 515.0,441.0 512.5,440.8 510.0,440.5 507.5,440.2 505.0,440.0 502.5,439.8 500.0,439.5 497.5,438.9 495.0,438.3 492.5,437.7 490.0,437.1 487.5,436.5 485.0,435.9 482.5,435.3 480.0,434.7 477.5,434.1 475.0,433.5 472.5,433.0 470.0,432.5 467.5,432.0 465.0,431.5 462.5,431.0 460.0,430.5 457.5,430.0 455.0,429.5 452.5,429.0 450.0,428.5 447.5,428.6 445.0,428.7 442.5,428.7 440.0,428.8 437.5,428.8 435.0,428.7 432.5,428.6 430.0,428.4 427.5,428.1 425.0,428.1 422.5,428.1 420.0,428.1 417.5,428.2 415.0,428.2 412.5,428.2 410.0,428.3 407.5,428.3 405.0,428.3 402.5,428.2 400.0,427.9 397.5,427.1 395.0,426.3 392.5,425.6 390.0,424.8 387.5,424.0 385.0,423.2 382.5,422.4 380.0,421.6 377.5,420.8 375.0,420.1 372.5,419.3 370.0,418.8 367.5,418.3 365.0,417.8 362.5,417.3 360.0,416.9 357.5,416.4 355.0,416.2 352.5,416.3 350.0,416.3 347.5,416.4 345.0,416.4 342.5,416.5 340.0,416.5 337.5,416.8 335.0,417.0 332.5,417.2 330.0,417.5 327.5,417.8 325.0,417.7 322.5,416.8 320.0,415.8 317.5,414.9 315.0,414.0 312.5,413.1 310.0,412.1 307.5,411.2 305.0,410.3 302.5,410.3 300.0,410.3 297.5,410.3 295.0,410.3 292.5,410.3 290.0,410.4 287.5,410.5 285.0,410.6 282.5,410.8 280.0,410.9 277.5,411.3 275.0,412.1 272.5,412.9 270.0,413.7 267.5,414.5 265.0,415.3 262.5,416.0 260.0,416.8 257.5,417.5 255.0,418.2 252.5,419.0 250.0,419.7 247.5,420.4 245.0,421.1 242.5,421.8 240.0,422.5 237.5,422.9 235.0,423.2 232.5,423.6 230.0,424.0 227.5,424.5 225.0,425.3 222.5,426.4 220.0,427.5 217.5,428.5 215.0,429.6 212.5,430.7 210.0,431.7 207.5,432.7 205.0,433.7 202.5,433.9 200.0,434.0 197.5,434.3 195.0,434.6 192.5,434.8 190.0,435.1 187.5,435.4 185.0,435.7 182.5,436.0 180.0,436.3 177.5,436.8 175.0,437.4 172.5,438.0 170.0,438.5 167.5,439.1 165.0,439.6 162.5,440.3 160.0,440.9 157.5,441.6 155.0,442.3 152.5,442.9 150.0,442.8 147.5,442.5 145.0,442.2 142.5,441.9 140.0,441.6 137.5,441.6 135.0,441.5 132.5,441.5 130.0,441.5" fill="#CCFF33"/>
<polygon points="130.0,449.5 132.5,449.5 135.0,449.5 137.5,449.6 140.0,449.6 142.5,449.6 145.0,449.6 147.5,449.7 150.0,449.7 152.5,449.4 155.0,448.6 157.5,447.7 160.0,446.9 162.5,446.0 165.0,445.2 167.5,444.5 170.0,443.8 172.5,443.1 175.0,442.4 177.5,441.7 180.0,441.0 182.5,440.7 185.0,440.3 187.5,440.0 190.0,439.6 192.5,439.3 195.0,439.0 197.5,438.6 200.0,438.3 202.5,438.0 205.0,437.7 207.5,436.5 210.0,435.4 212.5,434.2 215.0,433.0 217.5,431.9 220.0,430.7 222.5,429.5 225.0,428.3 227.5,427.2 230.0,426.3 232.5,425.6 235.0,424.9 237.5,424.2 240.0,423.5 242.5,422.8 245.0,422.1 247.5,421.4 250.0,420.7 252.5,420.0 255.0,419.2 257.5,418.5 260.0,417.8 262.5,417.0 265.0,416.3 267.5,415.5 270.0,414.7 272.5,413.9 275.0,413.1 277.5,412.3 280.0,411.9 282.5,411.9 285.0,411.8 287.5,411.7 290.0,411.7 292.5,411.6 295.0,411.6 297.5,411.6 300.0,411.6 302.5,411.6 305.0,411.6 307.5,412.6 310.0,413.6 312.5,414.6 315.0,415.6 317.5,416.6 320.0,417.7 322.5,418.7 325.0,419.7 327.5,420.0 330.0,420.0 332.5,420.0 335.0,420.0 337.5,420.0 340.0,420.0 342.5,420.0 345.0,420.0 347.5,420.0 350.0,420.0 352.5,420.0 355.0,420.0 357.5,420.2 360.0,420.7 362.5,421.2 365.0,421.8 367.5,422.3 370.0,422.8 372.5,423.3 375.0,424.0 377.5,424.8 380.0,425.6 382.5,426.3 385.0,427.1 387.5,427.9 390.0,428.7 392.5,429.4 395.0,430.2 397.5,431.0 400.0,431.8 402.5,432.0 405.0,432.1 407.5,432.1 410.0,432.1 412.5,432.2 415.0,432.2 417.5,432.3 420.0,432.3 422.5,432.3 425.0,432.4 427.5,432.5 430.0,432.8 432.5,433.2 435.0,433.5 437.5,433.9 440.0,434.2 442.5,434.4 445.0,434.6 447.5,434.8 450.0,435.0 452.5,435.5 455.0,436.0 457.5,436.5 460.0,437.0 462.5,437.5 465.0,438.0 467.5,438.5 470.0,439.0 472.5,439.5 475.0,440.0 477.5,440.7 480.0,441.4 482.5,442.0 485.0,442.7 487.5,443.4 490.0,444.1 492.5,444.8 495.0,445.4 497.5,446.1 500.0,446.8 502.5,447.2 505.0,447.6 507.5,448.0 510.0,448.4 512.5,448.8 515.0,449.2 517.5,449.6 520.0,450.0 522.5,450.1 525.0,450.2 527.5,450.4 530.0,450.5 532.5,450.6 535.0,450.8 537.5,450.9 540.0,451.0 542.5,451.1 545.0,451.1 547.5,451.2 550.0,451.2 552.5,451.3 555.0,451.4 557.5,451.4 560.0,451.5 562.5,451.5 565.0,451.6 567.5,451.7 570.0,451.7 572.5,451.8 575.0,451.9 577.5,452.0 580.0,452.1 582.5,452.3 585.0,452.4 587.5,452.5 590.0,452.6 592.5,452.7 595.0,452.9 597.5,453.0 600.0,453.0 602.5,453.1 605.0,453.1 607.5,453.2 610.0,453.2 612.5,453.2 615.0,453.3 617.5,453.3 620.0,453.4 622.5,453.4 625.0,453.4 627.5,453.5 630.0,453.5 632.5,453.6 635.0,453.6 637.5,453.7 640.0,453.7 642.5,453.7 645.0,453.7 647.5,453.8 650.0,453.8 652.5,453.8 655.0,453.8 657.5,453.8 660.0,453.8 662.5,453.9 665.0,453.9 667.5,453.9 670.0,454.0 672.5,454.2 675.0,454.3 677.5,454.5 680.0,454.7 682.5,454.8 685.0,455.0 687.5,455.1 690.0,455.3 692.5,455.4 695.0,455.4 697.5,455.5 700.0,455.5 702.5,455.6 705.0,455.6 707.5,455.7 710.0,455.8 712.5,455.8 715.0,455.9 717.5,455.9 720.0,456.0 722.5,456.0 725.0,455.9 727.5,455.9 730.0,455.8 732.5,455.8 735.0,455.8 737.5,455.7 740.0,455.7 742.5,455.7 745.0,455.6 747.5,455.6 750.0,455.5 752.5,455.5 755.0,455.4 757.5,455.2 760.0,455.0 762.5,454.8 765.0,454.7 767.5,454.5 770.0,454.3 772.5,454.2 775.0,454.2 777.5,454.2 780.0,454.1 782.5,454.1 785.0,454.0 787.5,453.9 790.0,453.9 792.5,453.9 795.0,453.8 797.5,453.8 800.0,453.8 802.5,453.8 805.0,453.8 807.5,453.8 810.0,453.8 812.5,453.8 815.0,453.8 817.5,453.8 820.0,453.8 822.5,453.0 825.0,453.0 827.5,453.0 830.0,453.0 832.5,453.0 835.0,453.0 837.5,453.0 840.0,453.0 842.5,453.0 845.0,453.0 847.5,452.2 850.0,452.2 852.5,452.2 855.0,452.2 857.5,452.2 860.0,452.2 862.5,452.2 865.0,452.2 867.5,452.2 870.0,452.2 872.5,451.3 875.0,451.3 877.5,451.3 880.0,451.3 882.5,451.7 885.0,451.8 887.5,451.7 890.0,451.7 892.5,451.7 895.0,451.7 897.5,451.6 900.0,451.6 902.5,451.9 905.0,452.2 907.5,452.5 910.0,452.8 912.5,453.1 915.0,453.4 917.5,453.7 920.0,454.0 922.5,454.1 925.0,454.2 927.5,454.3 930.0,454.4 932.5,454.5 935.0,454.6 937.5,454.7 940.0,454.8 942.5,454.9 945.0,455.0 947.5,455.1 950.0,455.1 952.5,455.2 955.0,455.2 957.5,455.3 960.0,455.3 962.5,455.4 965.0,455.4 967.5,455.5 970.0,455.6 972.5,455.7 975.0,455.8 977.5,455.9 980.0,455.9 982.5,456.0 985.0,456.1 987.5,456.2 990.0,456.3 992.5,456.4 995.0,456.5 995.0,450.0 992.5,450.0 990.0,450.0 987.5,450.0 985.0,450.0 982.5,450.0 980.0,449.9 977.5,450.1 975.0,450.2 972.5,450.3 970.0,450.4 967.5,450.5 965.0,450.4 962.5,450.4 960.0,450.3 957.5,450.2 955.0,449.9 952.5,449.6 950.0,449.3 947.5,448.9 945.0,448.6 942.5,448.4 940.0,448.3 937.5,448.2 935.0,448.1 932.5,448.0 930.0,447.9 927.5,447.8 925.0,447.7 922.5,447.6 920.0,447.5 917.5,447.4 915.0,447.3 912.5,447.2 910.0,447.1 907.5,446.9 905.0,446.8 902.5,446.7 900.0,446.6 897.5,446.0 895.0,445.4 892.5,444.8 890.0,444.1 887.5,443.5 885.0,442.8 882.5,442.0 880.0,441.0 877.5,441.6 875.0,442.1 872.5,442.7 870.0,443.7 867.5,443.7 865.0,443.7 862.5,443.7 860.0,443.7 857.5,443.7 855.0,443.7 852.5,443.7 850.0,443.7 847.5,443.7 845.0,447.0 842.5,447.0 840.0,447.0 837.5,447.0 835.0,447.0 832.5,447.0 830.0,447.0 827.5,447.0 825.0,447.0 822.5,447.6 820.0,448.6 817.5,448.6 815.0,448.6 812.5,448.6 810.0,448.3 807.5,447.9 805.0,447.6 802.5,447.2 800.0,446.8 797.5,446.9 795.0,447.0 792.5,447.1 790.0,447.2 787.5,447.4 785.0,447.5 782.5,447.6 780.0,447.8 777.5,447.9 775.0,448.0 772.5,448.2 770.0,448.3 767.5,448.6 765.0,448.8 762.5,449.1 760.0,449.3 757.5,449.6 755.0,449.8 752.5,450.2 750.0,451.0 747.5,451.8 745.0,452.6 742.5,452.2 740.0,451.7 737.5,451.2 735.0,450.8 732.5,450.3 730.0,449.8 727.5,449.3 725.0,448.8 722.5,448.3 720.0,447.9 717.5,447.6 715.0,447.2 712.5,446.9 710.0,446.5 707.5,446.1 705.0,445.7 702.5,445.3 700.0,444.9 697.5,444.5 695.0,444.1 692.5,443.7 690.0,443.3 687.5,443.1 685.0,443.0 682.5,442.8 680.0,442.7 677.5,442.5 675.0,442.3 672.5,442.2 670.0,442.0 667.5,441.8 665.0,441.1 662.5,440.4 660.0,439.7 657.5,439.0 655.0,438.3 652.5,438.3 650.0,438.3 647.5,438.3 645.0,438.2 642.5,438.2 640.0,438.2 637.5,438.2 635.0,438.1 632.5,438.4 630.0,438.7 627.5,438.9 625.0,439.2 622.5,439.4 620.0,439.6 617.5,439.7 615.0,439.9 612.5,440.0 610.0,440.1 607.5,440.3 605.0,440.4 602.5,440.6 600.0,440.7 597.5,440.8 595.0,440.9 592.5,441.0 590.0,441.1 587.5,441.2 585.0,441.3 582.5,441.4 580.0,441.5 577.5,441.6 575.0,441.7 572.5,441.8 570.0,441.9 567.5,442.0 565.0,442.1 562.5,442.2 560.0,442.3 557.5,442.4 555.0,442.5 552.5,442.5 550.0,442.6 547.5,442.7 545.0,442.8 542.5,442.9 540.0,443.0 537.5,443.2 535.0,443.5 532.5,443.6 530.0,443.6 527.5,443.6 525.0,443.6 522.5,443.5 520.0,443.5 517.5,443.3 515.0,443.0 512.5,442.8 510.0,442.5 507.5,442.3 505.0,442.1 502.5,441.8 500.0,441.6 497.5,441.0 495.0,440.4 492.5,439.8 490.0,439.2 487.5,438.6 485.0,438.1 482.5,437.5 480.0,436.9 477.5,436.3 475.0,435.7 472.5,435.2 470.0,434.7 467.5,434.2 465.0,433.7 462.5,433.2 460.0,432.7 457.5,432.2 455.0,431.7 452.5,431.2 450.0,430.7 447.5,430.8 445.0,430.8 442.5,430.8 440.0,430.9 437.5,430.8 435.0,430.7 432.5,430.6 430.0,430.4 427.5,430.1 425.0,430.0 422.5,430.0 420.0,430.0 417.5,430.0 415.0,430.1 412.5,430.1 410.0,430.1 407.5,430.1 405.0,430.1 402.5,430.1 400.0,429.9 397.5,429.2 395.0,428.4 392.5,427.7 390.0,427.0 387.5,426.3 385.0,425.5 382.5,424.8 380.0,424.1 377.5,423.4 375.0,422.6 372.5,422.0 370.0,421.5 367.5,421.0 365.0,420.4 362.5,419.9 360.0,419.4 357.5,418.9 355.0,418.7 352.5,418.7 350.0,418.7 347.5,418.7 345.0,418.7 342.5,418.7 340.0,418.7 337.5,418.8 335.0,418.8 332.5,418.9 330.0,418.9 327.5,418.9 325.0,418.7 322.5,417.7 320.0,416.7 317.5,415.6 315.0,414.6 312.5,413.6 310.0,412.6 307.5,411.6 305.0,410.6 302.5,410.6 300.0,410.6 297.5,410.6 295.0,410.6 292.5,410.6 290.0,410.7 287.5,410.7 285.0,410.8 282.5,410.9 280.0,410.9 277.5,411.3 275.0,412.1 272.5,412.9 270.0,413.7 267.5,414.5 265.0,415.3 262.5,416.0 260.0,416.8 257.5,417.5 255.0,418.2 252.5,419.0 250.0,419.7 247.5,420.4 245.0,421.1 242.5,421.8 240.0,422.5 237.5,423.1 235.0,423.6 232.5,424.2 230.0,424.8 227.5,425.5 225.0,426.5 222.5,427.7 220.0,428.8 217.5,429.9 215.0,431.1 212.5,432.2 210.0,433.3 207.5,434.4 205.0,435.6 202.5,435.8 200.0,436.1 197.5,436.3 195.0,436.6 192.5,436.8 190.0,437.0 187.5,437.3 185.0,437.5 182.5,437.8 180.0,438.0 177.5,438.7 175.0,439.4 172.5,440.1 170.0,440.8 167.5,441.5 165.0,442.2 162.5,442.8 160.0,443.4 157.5,444.1 155.0,444.7 152.5,445.4 150.0,445.5 147.5,445.3 145.0,445.2 142.5,445.0 140.0,444.9 137.5,444.9 135.0,444.8 132.5,444.8 130.0,444.8" fill="#FFF500"/>
<polygon points="130.0,449.5 132.5,449.5 135.0,449.5 137.5,449.6 140.0,449.6 142.5,449.6 145.0,449.6 147.5,449.7 150.0,449.7 152.5,449.4 155.0,448.6 157.5,447.7 160.0,446.9 162.5,446.0 165.0,445.2 167.5,444.5 170.0,443.8 172.5,443.1 175.0,442.4 177.5,441.7 180.0,441.0 182.5,440.7 185.0,440.3 187.5,440.0 190.0,439.6 192.5,439.3 195.0,439.0 197.5,438.6 200.0,438.3 202.5,438.0 205.0,437.7 207.5,436.5 210.0,435.4 212.5,434.2 215.0,433.0 217.5,431.9 220.0,430.7 222.5,429.5 225.0,428.3 227.5,427.2 230.0,426.3 232.5,425.6 235.0,424.9 237.5,424.2 240.0,423.5 242.5,422.8 245.0,422.1 247.5,421.4 250.0,420.7 252.5,420.0 255.0,419.2 257.5,418.5 260.0,417.8 262.5,417.0 265.0,416.3 267.5,415.5 270.0,414.7 272.5,413.9 275.0,413.1 277.5,412.3 280.0,411.9 282.5,411.9 285.0,411.8 287.5,411.7 290.0,411.7 292.5,411.6 295.0,411.6 297.5,411.6 300.0,411.6 302.5,411.6 305.0,411.6 307.5,412.6 310.0,413.6 312.5,414.6 315.0,415.6 317.5,416.6 320.0,417.7 322.5,418.7 325.0,419.7 327.5,420.0 330.0,420.0 332.5,420.0 335.0,420.0 337.5,420.0 340.0,420.0 342.5,420.0 345.0,420.0 347.5,420.0 350.0,420.0 352.5,420.0 355.0,420.0 357.5,420.2 360.0,420.7 362.5,421.2 365.0,421.8 367.5,422.3 370.0,422.8 372.5,423.3 375.0,424.0 377.5,424.8 380.0,425.6 382.5,426.3 385.0,427.1 387.5,427.9 390.0,428.7 392.5,429.4 395.0,430.2 397.5,431.0 400.0,431.8 402.5,432.0 405.0,432.1 407.5,432.1 410.0,432.1 412.5,432.2 415.0,432.2 417.5,432.3 420.0,432.3 422.5,432.3 425.0,432.4 427.5,432.5 430.0,432.8 432.5,433.2 435.0,433.5 437.5,433.9 440.0,434.2 442.5,434.4 445.0,434.6 447.5,434.8 450.0,435.0 452.5,435.5 455.0,436.0 457.5,436.5 460.0,437.0 462.5,437.5 465.0,438.0 467.5,438.5 470.0,439.0 472.5,439.5 475.0,440.0 477.5,440.7 480.0,441.4 482.5,442.0 485.0,442.7 487.5,443.4 490.0,444.1 492.5,444.8 495.0,445.4 497.5,446.1 500.0,446.8 502.5,447.2 505.0,447.6 507.5,448.0 510.0,448.4 512.5,448.8 515.0,449.2 517.5,449.6 520.0,450.0 522.5,450.1 525.0,450.2 527.5,450.4 530.0,450.5 532.5,450.6 535.0,450.8 537.5,450.9 540.0,451.0 542.5,451.1 545.0,451.1 547.5,451.2 550.0,451.2 552.5,451.3 555.0,451.4 557.5,451.4 560.0,451.5 562.5,451.5 565.0,451.6 567.5,451.7 570.0,451.7 572.5,451.8 575.0,451.9 577.5,452.0 580.0,452.1 582.5,452.3 585.0,452.4 587.5,452.5 590.0,452.6 592.5,452.7 595.0,452.9 597.5,453.0 600.0,453.0 602.5,453.1 605.0,453.1 607.5,453.2 610.0,453.2 612.5,453.2 615.0,453.3 617.5,453.3 620.0,453.4 622.5,453.4 625.0,453.4 627.5,453.5 630.0,453.5 632.5,453.6 635.0,453.6 637.5,453.7 640.0,453.7 642.5,453.7 645.0,453.7 647.5,453.8 650.0,453.8 652.5,453.8 655.0,453.8 657.5,453.8 660.0,453.8 662.5,453.9 665.0,453.9 667.5,453.9 670.0,454.0 672.5,454.2 675.0,454.3 677.5,454.5 680.0,454.7 682.5,454.8 685.0,455.0 687.5,455.1 690.0,455.3 692.5,455.4 695.0,455.4 697.5,455.5 700.0,455.5 702.5,455.6 705.0,455.6 707.5,455.7 710.0,455.8 712.5,455.8 715.0,455.9 717.5,455.9 720.0,456.0 722.5,456.0 725.0,455.9 727.5,455.9 730.0,455.8 732.5,455.8 735.0,455.8 737.5,455.7 740.0,455.7 742.5,455.7 745.0,455.6 747.5,455.6 750.0,455.5 752.5,455.5 755.0,455.4 757.5,455.2 760.0,455.0 762.5,454.8 765.0,454.7 767.5,454.5 770.0,454.3 772.5,454.2 775.0,454.2 777.5,454.2 780.0,454.1 782.5,454.1 785.0,454.0 787.5,453.9 790.0,453.9 792.5,453.9 795.0,453.8 797.5,453.8 800.0,453.8 802.5,453.8 805.0,453.8 807.5,453.8 810.0,453.8 812.5,453.8 815.0,453.8 817.5,453.8 820.0,453.8 822.5,453.0 825.0,453.0 827.5,453.0 830.0,453.0 832.5,453.0 835.0,453.0 837.5,453.0 840.0,453.0 842.5,453.0 845.0,453.0 847.5,452.2 850.0,452.2 852.5,452.2 855.0,452.2 857.5,452.2 860.0,452.2 862.5,452.2 865.0,452.2 867.5,452.2 870.0,452.2 872.5,451.3 875.0,451.3 877.5,451.3 880.0,451.3 882.5,451.7 885.0,451.8 887.5,451.7 890.0,451.7 892.5,451.7 895.0,451.7 897.5,451.6 900.0,451.6 902.5,451.9 905.0,452.2 907.5,452.5 910.0,452.8 912.5,453.1 915.0,453.4 917.5,453.7 920.0,454.0 922.5,454.1 925.0,454.2 927.5,454.3 930.0,454.4 932.5,454.5 935.0,454.6 937.5,454.7 940.0,454.8 942.5,454.9 945.0,455.0 947.5,455.1 950.0,455.1 952.5,455.2 955.0,455.2 957.5,455.3 960.0,455.3 962.5,455.4 965.0,455.4 967.5,455.5 970.0,455.6 972.5,455.7 975.0,455.8 977.5,455.9 980.0,455.9 982.5,456.0 985.0,456.1 987.5,456.2 990.0,456.3 992.5,456.4 995.0,456.5 995.0,451.5 992.5,451.6 990.0,451.6 987.5,451.7 985.0,451.8 982.5,451.9 980.0,451.9 977.5,452.2 975.0,452.4 972.5,452.6 970.0,452.8 967.5,453.0 965.0,453.1 962.5,453.2 960.0,453.2 957.5,453.2 955.0,452.9 952.5,452.6 950.0,452.3 947.5,451.9 945.0,451.6 942.5,451.4 940.0,451.3 937.5,451.2 935.0,451.1 932.5,450.9 930.0,450.8 927.5,450.7 925.0,450.5 922.5,450.4 920.0,450.3 917.5,450.2 915.0,450.1 912.5,450.0 910.0,449.9 907.5,449.9 905.0,449.8 902.5,449.7 900.0,449.6 897.5,449.1 895.0,448.6 892.5,448.1 890.0,447.6 887.5,447.2 885.0,446.7 882.5,446.2 880.0,445.3 877.5,444.9 875.0,444.6 872.5,444.2 870.0,445.0 867.5,445.0 865.0,445.0 862.5,445.0 860.0,445.0 857.5,445.0 855.0,445.0 852.5,445.0 850.0,445.0 847.5,445.0 845.0,447.8 842.5,447.8 840.0,447.8 837.5,447.8 835.0,447.8 832.5,447.8 830.0,447.8 827.5,447.8 825.0,447.8 822.5,448.5 820.0,449.5 817.5,449.5 815.0,449.5 812.5,449.5 810.0,449.5 807.5,449.4 805.0,449.4 802.5,449.3 800.0,449.3 797.5,449.3 795.0,449.3 792.5,449.4 790.0,449.4 787.5,449.4 785.0,449.5 782.5,449.6 780.0,449.6 777.5,449.7 775.0,449.7 772.5,449.8 770.0,449.8 767.5,450.1 765.0,450.3 762.5,450.6 760.0,450.8 757.5,451.1 755.0,451.3 752.5,451.7 750.0,452.7 747.5,453.6 745.0,454.6 742.5,454.7 740.0,454.7 737.5,454.7 735.0,454.8 732.5,454.7 730.0,454.7 727.5,454.6 725.0,454.6 722.5,454.5 720.0,454.1 717.5,452.9 715.0,451.7 712.5,450.5 710.0,449.9 707.5,449.5 705.0,449.0 702.5,448.6 700.0,448.1 697.5,447.7 695.0,447.2 692.5,446.8 690.0,446.3 687.5,446.1 685.0,446.0 682.5,445.8 680.0,445.7 677.5,445.5 675.0,445.3 672.5,445.2 670.0,445.0 667.5,444.8 665.0,444.2 662.5,443.6 660.0,443.0 657.5,442.4 655.0,441.8 652.5,441.8 650.0,441.8 647.5,441.8 645.0,441.7 642.5,441.7 640.0,441.7 637.5,441.7 635.0,441.6 632.5,441.7 630.0,441.7 627.5,441.8 625.0,441.9 622.5,442.0 620.0,442.1 617.5,442.3 615.0,442.5 612.5,442.7 610.0,442.8 607.5,443.0 605.0,443.2 602.5,443.4 600.0,443.6 597.5,443.7 595.0,443.9 592.5,444.0 590.0,444.1 587.5,444.3 585.0,444.4 582.5,444.6 580.0,444.7 577.5,444.8 575.0,445.0 572.5,445.1 570.0,445.2 567.5,445.3 565.0,445.4 562.5,445.5 560.0,445.7 557.5,445.8 555.0,445.9 552.5,446.0 550.0,446.1 547.5,446.2 545.0,446.3 542.5,446.4 540.0,446.5 537.5,446.4 535.0,446.2 532.5,446.2 530.0,446.3 527.5,446.5 525.0,446.7 522.5,446.8 520.0,447.0 517.5,446.9 515.0,446.7 512.5,446.6 510.0,446.4 507.5,446.2 505.0,446.1 502.5,445.9 500.0,445.8 497.5,445.1 495.0,444.4 492.5,443.8 490.0,443.1 487.5,442.4 485.0,441.7 482.5,441.0 480.0,440.4 477.5,439.7 475.0,439.0 472.5,438.5 470.0,438.0 467.5,437.5 465.0,437.0 462.5,436.5 460.0,436.0 457.5,435.5 455.0,435.0 452.5,434.5 450.0,434.0 447.5,433.8 445.0,433.6 442.5,433.4 440.0,433.2 437.5,432.9 435.0,432.5 432.5,432.2 430.0,431.8 427.5,431.5 425.0,431.4 422.5,431.3 420.0,431.3 417.5,431.3 415.0,431.2 412.5,431.2 410.0,431.1 407.5,431.1 405.0,431.1 402.5,431.0 400.0,430.8 397.5,430.0 395.0,429.2 392.5,428.4 390.0,427.7 387.5,426.9 385.0,426.1 382.5,425.3 380.0,424.6 377.5,423.8 375.0,423.0 372.5,422.3 370.0,421.8 367.5,421.3 365.0,420.8 362.5,420.2 360.0,419.7 357.5,419.2 355.0,419.0 352.5,419.0 350.0,419.0 347.5,419.0 345.0,419.0 342.5,419.0 340.0,419.0 337.5,419.0 335.0,419.0 332.5,419.0 330.0,419.0 327.5,419.0 325.0,418.7 322.5,417.7 320.0,416.7 317.5,415.6 315.0,414.6 312.5,413.6 310.0,412.6 307.5,411.6 305.0,410.6 302.5,410.6 300.0,410.6 297.5,410.6 295.0,410.6 292.5,410.6 290.0,410.7 287.5,410.7 285.0,410.8 282.5,410.9 280.0,410.9 277.5,411.3 275.0,412.1 272.5,412.9 270.0,413.7 267.5,414.5 265.0,415.3 262.5,416.0 260.0,416.8 257.5,417.5 255.0,418.2 252.5,419.0 250.0,419.7 247.5,420.4 245.0,421.1 242.5,421.8 240.0,422.5 237.5,423.2 235.0,423.9 232.5,424.6 230.0,425.3 227.5,426.2 225.0,427.3 222.5,428.5 220.0,429.7 217.5,430.9 215.0,432.0 212.5,433.2 210.0,434.4 207.5,435.5 205.0,436.7 202.5,437.0 200.0,437.3 197.5,437.6 195.0,438.0 192.5,438.3 190.0,438.6 187.5,439.0 185.0,439.3 182.5,439.7 180.0,440.0 177.5,440.7 175.0,441.4 172.5,442.1 170.0,442.8 167.5,443.5 165.0,444.2 162.5,445.0 160.0,445.9 157.5,446.7 155.0,447.6 152.5,448.4 150.0,448.7 147.5,448.7 145.0,448.6 142.5,448.6 140.0,448.6 137.5,448.6 135.0,448.5 132.5,448.5 130.0,448.5" fill="#FFC800"/>
<polygon points="130.0,449.5 132.5,449.5 135.0,449.5 137.5,449.6 140.0,449.6 142.5,449.6 145.0,449.6 147.5,449.7 150.0,449.7 152.5,449.4 155.0,448.6 157.5,447.7 160.0,446.9 162.5,446.0 165.0,445.2 167.5,444.5 170.0,443.8 172.5,443.1 175.0,442.4 177.5,441.7 180.0,441.0 182.5,440.7 185.0,440.3 187.5,440.0 190.0,439.6 192.5,439.3 195.0,439.0 197.5,438.6 200.0,438.3 202.5,438.0 205.0,437.7 207.5,436.5 210.0,435.4 212.5,434.2 215.0,433.0 217.5,431.9 220.0,430.7 222.5,429.5 225.0,428.3 227.5,427.2 230.0,426.3 232.5,425.6 235.0,424.9 237.5,424.2 240.0,423.5 242.5,422.8 245.0,422.1 247.5,421.4 250.0,420.7 252.5,420.0 255.0,419.2 257.5,418.5 260.0,417.8 262.5,417.0 265.0,416.3 267.5,415.5 270.0,414.7 272.5,413.9 275.0,413.1 277.5,412.3 280.0,411.9 282.5,411.9 285.0,411.8 287.5,411.7 290.0,411.7 292.5,411.6 295.0,411.6 297.5,411.6 300.0,411.6 302.5,411.6 305.0,411.6 307.5,412.6 310.0,413.6 312.5,414.6 315.0,415.6 317.5,416.6 320.0,417.7 322.5,418.7 325.0,419.7 327.5,420.0 330.0,420.0 332.5,420.0 335.0,420.0 337.5,420.0 340.0,420.0 342.5,420.0 345.0,420.0 347.5,420.0 350.0,420.0 352.5,420.0 355.0,420.0 357.5,420.2 360.0,420.7 362.5,421.2 365.0,421.8 367.5,422.3 370.0,422.8 372.5,423.3 375.0,424.0 377.5,424.8 380.0,425.6 382.5,426.3 385.0,427.1 387.5,427.9 390.0,428.7 392.5,429.4 395.0,430.2 397.5,431.0 400.0,431.8 402.5,432.0 405.0,432.1 407.5,432.1 410.0,432.1 412.5,432.2 415.0,432.2 417.5,432.3 420.0,432.3 422.5,432.3 425.0,432.4 427.5,432.5 430.0,432.8 432.5,433.2 435.0,433.5 437.5,433.9 440.0,434.2 442.5,434.4 445.0,434.6 447.5,434.8 450.0,435.0 452.5,435.5 455.0,436.0 457.5,436.5 460.0,437.0 462.5,437.5 465.0,438.0 467.5,438.5 470.0,439.0 472.5,439.5 475.0,440.0 477.5,440.7 480.0,441.4 482.5,442.0 485.0,442.7 487.5,443.4 490.0,444.1 492.5,444.8 495.0,445.4 497.5,446.1 500.0,446.8 502.5,447.2 505.0,447.6 507.5,448.0 510.0,448.4 512.5,448.8 515.0,449.2 517.5,449.6 520.0,450.0 522.5,450.1 525.0,450.2 527.5,450.4 530.0,450.5 532.5,450.6 535.0,450.8 537.5,450.9 540.0,451.0 542.5,451.1 545.0,451.1 547.5,451.2 550.0,451.2 552.5,451.3 555.0,451.4 557.5,451.4 560.0,451.5 562.5,451.5 565.0,451.6 567.5,451.7 570.0,451.7 572.5,451.8 575.0,451.9 577.5,452.0 580.0,452.1 582.5,452.3 585.0,452.4 587.5,452.5 590.0,452.6 592.5,452.7 595.0,452.9 597.5,453.0 600.0,453.0 602.5,453.1 605.0,453.1 607.5,453.2 610.0,453.2 612.5,453.2 615.0,453.3 617.5,453.3 620.0,453.4 622.5,453.4 625.0,453.4 627.5,453.5 630.0,453.5 632.5,453.6 635.0,453.6 637.5,453.7 640.0,453.7 642.5,453.7 645.0,453.7 647.5,453.8 650.0,453.8 652.5,453.8 655.0,453.8 657.5,453.8 660.0,453.8 662.5,453.9 665.0,453.9 667.5,453.9 670.0,454.0 672.5,454.2 675.0,454.3 677.5,454.5 680.0,454.7 682.5,454.8 685.0,455.0 687.5,455.1 690.0,455.3 692.5,455.4 695.0,455.4 697.5,455.5 700.0,455.5 702.5,455.6 705.0,455.6 707.5,455.7 710.0,455.8 712.5,455.8 715.0,455.9 717.5,455.9 720.0,456.0 722.5,456.0 725.0,455.9 727.5,455.9 730.0,455.8 732.5,455.8 735.0,455.8 737.5,455.7 740.0,455.7 742.5,455.7 745.0,455.6 747.5,455.6 750.0,455.5 752.5,455.5 755.0,455.4 757.5,455.2 760.0,455.0 762.5,454.8 765.0,454.7 767.5,454.5 770.0,454.3 772.5,454.2 775.0,454.2 777.5,454.2 780.0,454.1 782.5,454.1 785.0,454.0 787.5,453.9 790.0,453.9 792.5,453.9 795.0,453.8 797.5,453.8 800.0,453.8 802.5,453.8 805.0,453.8 807.5,453.8 810.0,453.8 812.5,453.8 815.0,453.8 817.5,453.8 820.0,453.8 822.5,453.0 825.0,453.0 827.5,453.0 830.0,453.0 832.5,453.0 835.0,453.0 837.5,453.0 840.0,453.0 842.5,453.0 845.0,453.0 847.5,452.2 850.0,452.2 852.5,452.2 855.0,452.2 857.5,452.2 860.0,452.2 862.5,452.2 865.0,452.2 867.5,452.2 870.0,452.2 872.5,451.3 875.0,451.3 877.5,451.3 880.0,451.3 882.5,451.7 885.0,451.8 887.5,451.7 890.0,451.7 892.5,451.7 895.0,451.7 897.5,451.6 900.0,451.6 902.5,451.9 905.0,452.2 907.5,452.5 910.0,452.8 912.5,453.1 915.0,453.4 917.5,453.7 920.0,454.0 922.5,454.1 925.0,454.2 927.5,454.3 930.0,454.4 932.5,454.5 935.0,454.6 937.5,454.7 940.0,454.8 942.5,454.9 945.0,455.0 947.5,455.1 950.0,455.1 952.5,455.2 955.0,455.2 957.5,455.3 960.0,455.3 962.5,455.4 965.0,455.4 967.5,455.5 970.0,455.6 972.5,455.7 975.0,455.8 977.5,455.9 980.0,455.9 982.5,456.0 985.0,456.1 987.5,456.2 990.0,456.3 992.5,456.4 995.0,456.5 995.0,452.0 992.5,452.1 990.0,452.1 987.5,452.2 985.0,452.3 982.5,452.4 980.0,452.4 977.5,452.7 975.0,452.9 972.5,453.1 970.0,453.3 967.5,453.5 965.0,453.6 962.5,453.7 960.0,453.7 957.5,453.7 955.0,453.4 952.5,453.1 950.0,452.8 947.5,452.4 945.0,452.1 942.5,451.9 940.0,451.8 937.5,451.7 935.0,451.6 932.5,451.4 930.0,451.3 927.5,451.2 925.0,451.0 922.5,450.9 920.0,450.8 917.5,450.7 915.0,450.6 912.5,450.5 910.0,450.4 907.5,450.4 905.0,450.3 902.5,450.2 900.0,450.1 897.5,449.8 895.0,449.4 892.5,449.2 890.0,449.1 887.5,449.0 885.0,449.0 882.5,448.8 880.0,448.3 877.5,447.2 875.0,446.2 872.5,445.1 870.0,445.8 867.5,445.8 865.0,445.8 862.5,445.8 860.0,445.8 857.5,445.8 855.0,445.8 852.5,445.8 850.0,445.8 847.5,445.8 845.0,448.2 842.5,448.2 840.0,448.2 837.5,448.2 835.0,448.2 832.5,448.2 830.0,448.2 827.5,448.2 825.0,448.2 822.5,448.8 820.0,449.8 817.5,449.8 815.0,449.8 812.5,449.8 810.0,450.0 807.5,450.2 805.0,450.4 802.5,450.6 800.0,450.8 797.5,450.8 795.0,450.7 792.5,450.7 790.0,450.7 787.5,450.7 785.0,450.8 782.5,450.8 780.0,450.8 777.5,450.8 775.0,450.8 772.5,450.8 770.0,450.8 767.5,451.1 765.0,451.3 762.5,451.6 760.0,451.8 757.5,452.1 755.0,452.3 752.5,452.6 750.0,453.3 747.5,454.0 745.0,454.6 742.5,454.7 740.0,454.7 737.5,454.7 735.0,454.8 732.5,454.8 730.0,454.8 727.5,454.9 725.0,454.9 722.5,455.0 720.0,454.7 717.5,453.8 715.0,452.9 712.5,452.0 710.0,451.4 707.5,451.0 705.0,450.5 702.5,450.1 700.0,449.6 697.5,449.2 695.0,448.7 692.5,448.3 690.0,447.8 687.5,447.7 685.0,447.6 682.5,447.5 680.0,447.4 677.5,447.3 675.0,447.2 672.5,447.1 670.0,447.0 667.5,446.8 665.0,446.2 662.5,445.6 660.0,445.0 657.5,444.4 655.0,443.8 652.5,443.8 650.0,443.8 647.5,443.8 645.0,443.7 642.5,443.7 640.0,443.7 637.5,443.7 635.0,443.6 632.5,443.6 630.0,443.5 627.5,443.5 625.0,443.4 622.5,443.4 620.0,443.6 617.5,443.8 615.0,443.9 612.5,444.1 610.0,444.2 607.5,444.4 605.0,444.6 602.5,444.7 600.0,444.9 597.5,445.0 595.0,445.2 592.5,445.4 590.0,445.6 587.5,445.8 585.0,445.9 582.5,446.1 580.0,446.3 577.5,446.5 575.0,446.7 572.5,446.8 570.0,446.9 567.5,446.9 565.0,447.0 562.5,447.0 560.0,447.1 557.5,447.1 555.0,447.2 552.5,447.2 550.0,447.3 547.5,447.3 545.0,447.4 542.5,447.4 540.0,447.5 537.5,447.6 535.0,447.6 532.5,447.7 530.0,448.0 527.5,448.2 525.0,448.5 522.5,448.7 520.0,449.0 517.5,448.6 515.0,448.2 512.5,447.8 510.0,447.4 507.5,447.0 505.0,446.6 502.5,446.2 500.0,445.8 497.5,445.1 495.0,444.4 492.5,443.8 490.0,443.1 487.5,442.4 485.0,441.7 482.5,441.0 480.0,440.4 477.5,439.7 475.0,439.0 472.5,438.5 470.0,438.0 467.5,437.5 465.0,437.0 462.5,436.5 460.0,436.0 457.5,435.5 455.0,435.0 452.5,434.5 450.0,434.0 447.5,433.8 445.0,433.6 442.5,433.4 440.0,433.2 437.5,432.9 435.0,432.5 432.5,432.2 430.0,431.8 427.5,431.5 425.0,431.4 422.5,431.3 420.0,431.3 417.5,431.3 415.0,431.2 412.5,431.2 410.0,431.1 407.5,431.1 405.0,431.1 402.5,431.0 400.0,430.8 397.5,430.0 395.0,429.2 392.5,428.4 390.0,427.7 387.5,426.9 385.0,426.1 382.5,425.3 380.0,424.6 377.5,423.8 375.0,423.0 372.5,422.3 370.0,421.8 367.5,421.3 365.0,420.8 362.5,420.2 360.0,419.7 357.5,419.2 355.0,419.0 352.5,419.0 350.0,419.0 347.5,419.0 345.0,419.0 342.5,419.0 340.0,419.0 337.5,419.0 335.0,419.0 332.5,419.0 330.0,419.0 327.5,419.0 325.0,418.7 322.5,417.7 320.0,416.7 317.5,415.6 315.0,414.6 312.5,413.6 310.0,412.6 307.5,411.6 305.0,410.6 302.5,410.6 300.0,410.6 297.5,410.6 295.0,410.6 292.5,410.6 290.0,410.7 287.5,410.7 285.0,410.8 282.5,410.9 280.0,410.9 277.5,411.3 275.0,412.1 272.5,412.9 270.0,413.7 267.5,414.5 265.0,415.3 262.5,416.0 260.0,416.8 257.5,417.5 255.0,418.2 252.5,419.0 250.0,419.7 247.5,420.4 245.0,421.1 242.5,421.8 240.0,422.5 237.5,423.2 235.0,423.9 232.5,424.6 230.0,425.3 227.5,426.2 225.0,427.3 222.5,428.5 220.0,429.7 217.5,430.9 215.0,432.0 212.5,433.2 210.0,434.4 207.5,435.5 205.0,436.7 202.5,437.0 200.0,437.3 197.5,437.6 195.0,438.0 192.5,438.3 190.0,438.6 187.5,439.0 185.0,439.3 182.5,439.7 180.0,440.0 177.5,440.7 175.0,441.4 172.5,442.1 170.0,442.8 167.5,443.5 165.0,444.2 162.5,445.0 160.0,445.9 157.5,446.7 155.0,447.6 152.5,448.4 150.0,448.7 147.5,448.7 145.0,448.6 142.5,448.6 140.0,448.6 137.5,448.6 135.0,448.5 132.5,448.5 130.0,448.5" fill="#FF9600"/>
<polygon points="130.0,449.5 132.5,449.5 135.0,449.5 137.5,449.6 140.0,449.6 142.5,449.6 145.0,449.6 147.5,449.7 150.0,449.7 152.5,449.4 155.0,448.6 157.5,447.7 160.0,446.9 162.5,446.0 165.0,445.2 167.5,444.5 170.0,443.8 172.5,443.1 175.0,442.4 177.5,441.7 180.0,441.0 182.5,440.7 185.0,440.3 187.5,440.0 190.0,439.6 192.5,439.3 195.0,439.0 197.5,438.6 200.0,438.3 202.5,438.0 205.0,437.7 207.5,436.5 210.0,435.4 212.5,434.2 215.0,433.0 217.5,431.9 220.0,430.7 222.5,429.5 225.0,428.3 227.5,427.2 230.0,426.3 232.5,425.6 235.0,424.9 237.5,424.2 240.0,423.5 242.5,422.8 245.0,422.1 247.5,421.4 250.0,420.7 252.5,420.0 255.0,419.2 257.5,418.5 260.0,417.8 262.5,417.0 265.0,416.3 267.5,415.5 270.0,414.7 272.5,413.9 275.0,413.1 277.5,412.3 280.0,411.9 282.5,411.9 285.0,411.8 287.5,411.7 290.0,411.7 292.5,411.6 295.0,411.6 297.5,411.6 300.0,411.6 302.5,411.6 305.0,411.6 307.5,412.6 310.0,413.6 312.5,414.6 315.0,415.6 317.5,416.6 320.0,417.7 322.5,418.7 325.0,419.7 327.5,420.0 330.0,420.0 332.5,420.0 335.0,420.0 337.5,420.0 340.0,420.0 342.5,420.0 345.0,420.0 347.5,420.0 350.0,420.0 352.5,420.0 355.0,420.0 357.5,420.2 360.0,420.7 362.5,421.2 365.0,421.8 367.5,422.3 370.0,422.8 372.5,423.3 375.0,424.0 377.5,424.8 380.0,425.6 382.5,426.3 385.0,427.1 387.5,427.9 390.0,428.7 392.5,429.4 395.0,430.2 397.5,431.0 400.0,431.8 402.5,432.0 405.0,432.1 407.5,432.1 410.0,432.1 412.5,432.2 415.0,432.2 417.5,432.3 420.0,432.3 422.5,432.3 425.0,432.4 427.5,432.5 430.0,432.8 432.5,433.2 435.0,433.5 437.5,433.9 440.0,434.2 442.5,434.4 445.0,434.6 447.5,434.8 450.0,435.0 452.5,435.5 455.0,436.0 457.5,436.5 460.0,437.0 462.5,437.5 465.0,438.0 467.5,438.5 470.0,439.0 472.5,439.5 475.0,440.0 477.5,440.7 480.0,441.4 482.5,442.0 485.0,442.7 487.5,443.4 490.0,444.1 492.5,444.8 495.0,445.4 497.5,446.1 500.0,446.8 502.5,447.2 505.0,447.6 507.5,448.0 510.0,448.4 512.5,448.8 515.0,449.2 517.5,449.6 520.0,450.0 522.5,450.1 525.0,450.2 527.5,450.4 530.0,450.5 532.5,450.6 535.0,450.8 537.5,450.9 540.0,451.0 542.5,451.1 545.0,451.1 547.5,451.2 550.0,451.2 552.5,451.3 555.0,451.4 557.5,451.4 560.0,451.5 562.5,451.5 565.0,451.6 567.5,451.7 570.0,451.7 572.5,451.8 575.0,451.9 577.5,452.0 580.0,452.1 582.5,452.3 585.0,452.4 587.5,452.5 590.0,452.6 592.5,452.7 595.0,452.9 597.5,453.0 600.0,453.0 602.5,453.1 605.0,453.1 607.5,453.2 610.0,453.2 612.5,453.2 615.0,453.3 617.5,453.3 620.0,453.4 622.5,453.4 625.0,453.4 627.5,453.5 630.0,453.5 632.5,453.6 635.0,453.6 637.5,453.7 640.0,453.7 642.5,453.7 645.0,453.7 647.5,453.8 650.0,453.8 652.5,453.8 655.0,453.8 657.5,453.8 660.0,453.8 662.5,453.9 665.0,453.9 667.5,453.9 670.0,454.0 672.5,454.2 675.0,454.3 677.5,454.5 680.0,454.7 682.5,454.8 685.0,455.0 687.5,455.1 690.0,455.3 692.5,455.4 695.0,455.4 697.5,455.5 700.0,455.5 702.5,455.6 705.0,455.6 707.5,455.7 710.0,455.8 712.5,455.8 715.0,455.9 717.5,455.9 720.0,456.0 722.5,456.0 725.0,455.9 727.5,455.9 730.0,455.8 732.5,455.8 735.0,455.8 737.5,455.7 740.0,455.7 742.5,455.7 745.0,455.6 747.5,455.6 750.0,455.5 752.5,455.5 755.0,455.4 757.5,455.2 760.0,455.0 762.5,454.8 765.0,454.7 767.5,454.5 770.0,454.3 772.5,454.2 775.0,454.2 777.5,454.2 780.0,454.1 782.5,454.1 785.0,454.0 787.5,453.9 790.0,453.9 792.5,453.9 795.0,453.8 797.5,453.8 800.0,453.8 802.5,453.8 805.0,453.8 807.5,453.8 810.0,453.8 812.5,453.8 815.0,453.8 817.5,453.8 820.0,453.8 822.5,453.0 825.0,453.0 827.5,453.0 830.0,453.0 832.5,453.0 835.0,453.0 837.5,453.0 840.0,453.0 842.5,453.0 845.0,453.0 847.5,452.2 850.0,452.2 852.5,452.2 855.0,452.2 857.5,452.2 860.0,452.2 862.5,452.2 865.0,452.2 867.5,452.2 870.0,452.2 872.5,451.3 875.0,451.3 877.5,451.3 880.0,451.3 882.5,451.7 885.0,451.8 887.5,451.7 890.0,451.7 892.5,451.7 895.0,451.7 897.5,451.6 900.0,451.6 902.5,451.9 905.0,452.2 907.5,452.5 910.0,452.8 912.5,453.1 915.0,453.4 917.5,453.7 920.0,454.0 922.5,454.1 925.0,454.2 927.5,454.3 930.0,454.4 932.5,454.5 935.0,454.6 937.5,454.7 940.0,454.8 942.5,454.9 945.0,455.0 947.5,455.1 950.0,455.1 952.5,455.2 955.0,455.2 957.5,455.3 960.0,455.3 962.5,455.4 965.0,455.4 967.5,455.5 970.0,455.6 972.5,455.7 975.0,455.8 977.5,455.9 980.0,455.9 982.5,456.0 985.0,456.1 987.5,456.2 990.0,456.3 992.5,456.4 995.0,456.5 995.0,455.5 992.5,455.4 990.0,455.3 987.5,455.2 985.0,455.1 982.5,455.0 980.0,454.9 977.5,454.9 975.0,454.8 972.5,454.7 970.0,454.6 967.5,454.5 965.0,454.4 962.5,454.4 960.0,454.3 957.5,454.3 955.0,454.2 952.5,454.2 950.0,454.1 947.5,454.1 945.0,454.0 942.5,453.9 940.0,453.8 937.5,453.7 935.0,453.6 932.5,453.5 930.0,453.4 927.5,453.3 925.0,453.2 922.5,453.1 920.0,453.0 917.5,452.7 915.0,452.4 912.5,452.1 910.0,451.8 907.5,451.5 905.0,451.2 902.5,450.9 900.0,450.6 897.5,450.6 895.0,450.7 892.5,450.7 890.0,450.7 887.5,450.7 885.0,450.8 882.5,450.7 880.0,450.3 877.5,450.3 875.0,450.3 872.5,450.3 870.0,451.2 867.5,451.2 865.0,451.2 862.5,451.2 860.0,451.2 857.5,451.2 855.0,451.2 852.5,451.2 850.0,451.2 847.5,451.2 845.0,452.0 842.5,452.0 840.0,452.0 837.5,452.0 835.0,452.0 832.5,452.0 830.0,452.0 827.5,452.0 825.0,452.0 822.5,452.0 820.0,452.8 817.5,452.8 815.0,452.8 812.5,452.8 810.0,452.8 807.5,452.8 805.0,452.8 802.5,452.8 800.0,452.8 797.5,452.8 795.0,452.8 792.5,452.9 790.0,452.9 787.5,452.9 785.0,453.0 782.5,453.1 780.0,453.1 777.5,453.2 775.0,453.2 772.5,453.2 770.0,453.3 767.5,453.5 765.0,453.7 762.5,453.8 760.0,454.0 757.5,454.2 755.0,454.4 752.5,454.5 750.0,454.5 747.5,454.6 745.0,454.6 742.5,454.7 740.0,454.7 737.5,454.7 735.0,454.8 732.5,454.8 730.0,454.8 727.5,454.9 725.0,454.9 722.5,455.0 720.0,455.0 717.5,454.9 715.0,454.9 712.5,454.8 710.0,454.8 707.5,454.7 705.0,454.6 702.5,454.6 700.0,454.5 697.5,454.5 695.0,454.4 692.5,454.4 690.0,454.3 687.5,454.1 685.0,454.0 682.5,453.8 680.0,453.7 677.5,453.5 675.0,453.3 672.5,453.2 670.0,453.0 667.5,452.9 665.0,452.9 662.5,452.9 660.0,452.8 657.5,452.8 655.0,452.8 652.5,452.8 650.0,452.8 647.5,452.8 645.0,452.7 642.5,452.7 640.0,452.7 637.5,452.7 635.0,452.6 632.5,452.6 630.0,452.5 627.5,452.5 625.0,452.4 622.5,452.4 620.0,452.4 617.5,452.3 615.0,452.3 612.5,452.2 610.0,452.2 607.5,452.2 605.0,452.1 602.5,452.1 600.0,452.0 597.5,452.0 595.0,451.9 592.5,451.7 590.0,451.6 587.5,451.5 585.0,451.4 582.5,451.3 580.0,451.1 577.5,451.0 575.0,450.9 572.5,450.8 570.0,450.7 567.5,450.7 565.0,450.6 562.5,450.5 560.0,450.5 557.5,450.4 555.0,450.4 552.5,450.3 550.0,450.2 547.5,450.2 545.0,450.1 542.5,450.1 540.0,450.0 537.5,449.9 535.0,449.8 532.5,449.6 530.0,449.5 527.5,449.4 525.0,449.2 522.5,449.1 520.0,449.0 517.5,448.6 515.0,448.2 512.5,447.8 510.0,447.4 507.5,447.0 505.0,446.6 502.5,446.2 500.0,445.8 497.5,445.1 495.0,444.4 492.5,443.8 490.0,443.1 487.5,442.4 485.0,441.7 482.5,441.0 480.0,440.4 477.5,439.7 475.0,439.0 472.5,438.5 470.0,438.0 467.5,437.5 465.0,437.0 462.5,436.5 460.0,436.0 457.5,435.5 455.0,435.0 452.5,434.5 450.0,434.0 447.5,433.8 445.0,433.6 442.5,433.4 440.0,433.2 437.5,432.9 435.0,432.5 432.5,432.2 430.0,431.8 427.5,431.5 425.0,431.4 422.5,431.3 420.0,431.3 417.5,431.3 415.0,431.2 412.5,431.2 410.0,431.1 407.5,431.1 405.0,431.1 402.5,431.0 400.0,430.8 397.5,430.0 395.0,429.2 392.5,428.4 390.0,427.7 387.5,426.9 385.0,426.1 382.5,425.3 380.0,424.6 377.5,423.8 375.0,423.0 372.5,422.3 370.0,421.8 367.5,421.3 365.0,420.8 362.5,420.2 360.0,419.7 357.5,419.2 355.0,419.0 352.5,419.0 350.0,419.0 347.5,419.0 345.0,419.0 342.5,419.0 340.0,419.0 337.5,419.0 335.0,419.0 332.5,419.0 330.0,419.0 327.5,419.0 325.0,418.7 322.5,417.7 320.0,416.7 317.5,415.6 315.0,414.6 312.5,413.6 310.0,412.6 307.5,411.6 305.0,410.6 302.5,410.6 300.0,410.6 297.5,410.6 295.0,410.6 292.5,410.6 290.0,410.7 287.5,410.7 285.0,410.8 282.5,410.9 280.0,410.9 277.5,411.3 275.0,412.1 272.5,412.9 270.0,413.7 267.5,414.5 265.0,415.3 262.5,416.0 260.0,416.8 257.5,417.5 255.0,418.2 252.5,419.0 250.0,419.7 247.5,420.4 245.0,421.1 242.5,421.8 240.0,422.5 237.5,423.2 235.0,423.9 232.5,424.6 230.0,425.3 227.5,426.2 225.0,427.3 222.5,428.5 220.0,429.7 217.5,430.9 215.0,432.0 212.5,433.2 210.0,434.4 207.5,435.5 205.0,436.7 202.5,437.0 200.0,437.3 197.5,437.6 195.0,438.0 192.5,438.3 190.0,438.6 187.5,439.0 185.0,439.3 182.5,439.7 180.0,440.0 177.5,440.7 175.0,441.4 172.5,442.1 170.0,442.8 167.5,443.5 165.0,444.2 162.5,445.0 160.0,445.9 157.5,446.7 155.0,447.6 152.5,448.4 150.0,448.7 147.5,448.7 145.0,448.6 142.5,448.6 140.0,448.6 137.5,448.6 135.0,448.5 132.5,448.5 130.0,448.5" fill="#FF5A00"/>
<polygon points="614.0,446.9 616.5,447.2 619.0,447.5 621.5,447.7 624.0,448.0 626.5,448.1 629.0,448.1 631.5,448.2 634.0,448.2 636.5,448.2 639.0,448.3 641.5,448.3 644.0,448.3 646.5,448.3 649.0,448.4 651.5,448.4 654.0,448.4 656.5,448.4 659.0,448.3 661.5,448.1 664.0,447.9 666.5,447.6 666.5,447.3 664.0,447.1 661.5,446.8 659.0,446.5 656.5,446.4 654.0,446.4 651.5,446.4 649.0,446.4 646.5,446.3 644.0,446.3 641.5,446.3 639.0,446.3 636.5,446.2 634.0,446.2 631.5,446.2 629.0,446.1 626.5,446.1 624.0,446.0 621.5,446.2 619.0,446.5 616.5,446.7 614.0,446.9" fill="#FF6400"/>
<polygon points="824.0,449.9 826.5,450.2 829.0,450.3 831.5,450.3 834.0,450.3 836.5,450.3 839.0,450.3 841.5,450.3 844.0,450.1 844.0,449.6 841.5,449.4 839.0,449.4 836.5,449.4 834.0,449.4 831.5,449.4 829.0,449.4 826.5,449.5 824.0,449.9" fill="#FF5A00"/>
<polygon points="845.0,449.6 847.5,449.8 850.0,450.0 852.5,450.0 855.0,450.0 857.5,450.0 860.0,450.0 862.5,450.0 865.0,450.0 867.5,450.0 870.0,450.0 872.5,449.1 875.0,449.1 877.5,448.9 880.0,447.9 880.0,447.9 877.5,446.8 875.0,446.6 872.5,446.6 870.0,447.5 867.5,447.5 865.0,447.5 862.5,447.5 860.0,447.5 857.5,447.5 855.0,447.5 852.5,447.5 850.0,447.5 847.5,447.7 845.0,449.6" fill="#FF5A00"/>
<polygon points="596.0,452.9 598.0,453.0 600.0,453.0 602.0,453.1 604.0,453.1 606.0,453.1 608.0,453.2 610.0,453.2 612.0,453.2 614.0,453.3 616.0,453.3 618.0,453.3 620.0,453.4 622.0,453.4 624.0,453.4 626.0,453.5 628.0,453.5 630.0,453.5 632.0,453.6 634.0,453.6 636.0,453.6 638.0,453.7 640.0,453.7 642.0,453.7 644.0,453.7 646.0,453.7 648.0,453.8 650.0,453.8 652.0,453.8 654.0,453.8 656.0,453.8 658.0,453.8 660.0,453.8 662.0,453.9 664.0,453.9 666.0,453.9 668.0,453.9 670.0,454.0 672.0,454.2 674.0,454.3 676.0,454.4 678.0,454.5 680.0,454.7 682.0,454.8 684.0,454.9 686.0,455.0 688.0,455.2 690.0,455.3 692.0,455.3 694.0,455.4 696.0,455.4 698.0,455.5 700.0,455.5 702.0,455.6 704.0,455.6 706.0,455.7 708.0,455.7 710.0,455.8 712.0,455.8 714.0,455.9 716.0,455.9 718.0,456.0 720.0,456.0 722.0,456.0 724.0,455.9 726.0,455.9 728.0,455.9 730.0,455.8 732.0,455.8 734.0,455.8 736.0,455.8 738.0,455.7 740.0,455.7 742.0,455.7 744.0,455.6 746.0,455.6 748.0,455.6 750.0,455.5 752.0,455.5 754.0,455.4 756.0,455.3 758.0,455.1 760.0,455.0 762.0,454.9 764.0,454.7 766.0,454.6 768.0,454.4 770.0,454.3 772.0,454.3 774.0,454.2 776.0,454.2 778.0,454.1 780.0,454.1 782.0,454.1 784.0,454.0 786.0,454.0 788.0,453.9 790.0,453.9 792.0,453.9 794.0,453.8 796.0,453.8 798.0,453.8 800.0,453.8 802.0,453.8 804.0,453.8 806.0,453.8 808.0,453.8 810.0,453.8 812.0,453.8 814.0,453.8 816.0,453.8 818.0,453.8 820.0,453.8 822.0,453.0 824.0,453.0 826.0,453.0 828.0,453.0 830.0,453.0 832.0,453.0 834.0,453.0 836.0,453.0 838.0,453.0 840.0,453.0 842.0,453.0 844.0,453.0 846.0,452.2 848.0,452.2 850.0,452.2 852.0,452.2 854.0,452.2 856.0,452.2 858.0,452.2 860.0,452.2 862.0,452.2 864.0,452.2 866.0,452.2 868.0,452.2 870.0,452.2 872.0,451.3 874.0,451.3 876.0,451.3 878.0,451.3 880.0,451.3 882.0,451.6 884.0,451.8 884.0,450.8 882.0,450.2 880.0,449.5 878.0,449.1 876.0,449.1 874.0,449.1 872.0,449.1 870.0,450.0 868.0,450.0 866.0,450.0 864.0,450.0 862.0,450.0 860.0,450.0 858.0,450.0 856.0,450.0 854.0,450.0 852.0,450.0 850.0,450.0 848.0,450.0 846.0,449.8 844.0,450.3 842.0,450.3 840.0,450.3 838.0,450.3 836.0,450.3 834.0,450.3 832.0,450.3 830.0,450.3 828.0,450.3 826.0,450.3 824.0,450.3 822.0,450.8 820.0,451.6 818.0,451.6 816.0,451.6 814.0,451.6 812.0,451.6 810.0,452.0 808.0,452.4 806.0,452.8 804.0,452.8 802.0,452.8 800.0,452.8 798.0,452.8 796.0,452.8 794.0,452.8 792.0,452.9 790.0,452.9 788.0,452.9 786.0,453.0 784.0,453.0 782.0,453.1 780.0,453.1 778.0,453.1 776.0,453.2 774.0,453.2 772.0,453.3 770.0,453.3 768.0,453.4 766.0,453.6 764.0,453.7 762.0,453.9 760.0,454.0 758.0,454.1 756.0,454.3 754.0,454.4 752.0,454.5 750.0,454.5 748.0,454.6 746.0,454.6 744.0,454.6 742.0,454.7 740.0,454.7 738.0,454.7 736.0,454.8 734.0,454.8 732.0,454.8 730.0,454.8 728.0,454.9 726.0,454.9 724.0,454.8 722.0,454.6 720.0,454.4 718.0,454.1 716.0,453.9 714.0,453.6 712.0,453.3 710.0,453.1 708.0,452.9 706.0,452.8 704.0,452.6 702.0,452.4 700.0,452.2 698.0,452.0 696.0,451.8 694.0,451.7 692.0,451.5 690.0,451.3 688.0,450.8 686.0,450.4 684.0,449.9 682.0,449.5 680.0,449.0 678.0,448.5 676.0,448.1 674.0,447.6 672.0,447.2 670.0,447.4 668.0,447.6 666.0,447.9 664.0,448.2 662.0,448.5 660.0,448.8 658.0,448.8 656.0,448.8 654.0,448.8 652.0,448.8 650.0,448.8 648.0,448.8 646.0,448.7 644.0,448.7 642.0,448.7 640.0,448.7 638.0,448.7 636.0,448.6 634.0,448.6 632.0,448.6 630.0,448.5 628.0,448.6 626.0,448.7 624.0,448.8 622.0,448.9 620.0,449.0 618.0,449.1 616.0,449.2 614.0,449.5 612.0,449.8 610.0,450.2 608.0,450.6 606.0,450.9 604.0,451.3 602.0,451.7 600.0,452.0 598.0,452.0 596.0,451.9" fill="#FF9600"/>
<polygon points="596.0,452.9 598.0,453.0 600.0,453.0 602.0,453.1 604.0,453.1 606.0,453.1 608.0,453.2 610.0,453.2 612.0,453.2 614.0,453.3 616.0,453.3 618.0,453.3 620.0,453.4 622.0,453.4 624.0,453.4 626.0,453.5 628.0,453.5 630.0,453.5 632.0,453.6 634.0,453.6 636.0,453.6 638.0,453.7 640.0,453.7 642.0,453.7 644.0,453.7 646.0,453.7 648.0,453.8 650.0,453.8 652.0,453.8 654.0,453.8 656.0,453.8 658.0,453.8 660.0,453.8 662.0,453.9 664.0,453.9 666.0,453.9 668.0,453.9 670.0,454.0 672.0,454.2 674.0,454.3 676.0,454.4 678.0,454.5 680.0,454.7 682.0,454.8 684.0,454.9 686.0,455.0 688.0,455.2 690.0,455.3 692.0,455.3 694.0,455.4 696.0,455.4 698.0,455.5 700.0,455.5 702.0,455.6 704.0,455.6 706.0,455.7 708.0,455.7 710.0,455.8 712.0,455.8 714.0,455.9 716.0,455.9 718.0,456.0 720.0,456.0 722.0,456.0 724.0,455.9 726.0,455.9 728.0,455.9 730.0,455.8 732.0,455.8 734.0,455.8 736.0,455.8 738.0,455.7 740.0,455.7 742.0,455.7 744.0,455.6 746.0,455.6 748.0,455.6 750.0,455.5 752.0,455.5 754.0,455.4 756.0,455.3 758.0,455.1 760.0,455.0 762.0,454.9 764.0,454.7 766.0,454.6 768.0,454.4 770.0,454.3 772.0,454.3 774.0,454.2 776.0,454.2 778.0,454.1 780.0,454.1 782.0,454.1 784.0,454.0 786.0,454.0 788.0,453.9 790.0,453.9 792.0,453.9 794.0,453.8 796.0,453.8 798.0,453.8 800.0,453.8 802.0,453.8 804.0,453.8 806.0,453.8 808.0,453.8 810.0,453.8 812.0,453.8 814.0,453.8 816.0,453.8 818.0,453.8 820.0,453.8 822.0,453.0 824.0,453.0 826.0,453.0 828.0,453.0 830.0,453.0 832.0,453.0 834.0,453.0 836.0,453.0 838.0,453.0 840.0,453.0 842.0,453.0 844.0,453.0 846.0,452.2 848.0,452.2 850.0,452.2 852.0,452.2 854.0,452.2 856.0,452.2 858.0,452.2 860.0,452.2 862.0,452.2 864.0,452.2 866.0,452.2 868.0,452.2 870.0,452.2 872.0,451.3 874.0,451.3 876.0,451.3 878.0,451.3 880.0,451.3 882.0,451.6 884.0,451.8 884.0,450.8 882.0,450.6 880.0,450.3 878.0,450.3 876.0,450.3 874.0,450.3 872.0,450.3 870.0,451.2 868.0,451.2 866.0,451.2 864.0,451.2 862.0,451.2 860.0,451.2 858.0,451.2 856.0,451.2 854.0,451.2 852.0,451.2 850.0,451.2 848.0,451.2 846.0,450.8 844.0,451.2 842.0,451.2 840.0,451.2 838.0,451.2 836.0,451.2 834.0,451.2 832.0,451.2 830.0,451.2 828.0,451.2 826.0,451.2 824.0,451.2 822.0,450.8 820.0,451.6 818.0,451.6 816.0,451.6 814.0,451.6 812.0,451.6 810.0,452.0 808.0,452.4 806.0,452.8 804.0,452.8 802.0,452.8 800.0,452.8 798.0,452.8 796.0,452.8 794.0,452.8 792.0,452.9 790.0,452.9 788.0,452.9 786.0,453.0 784.0,453.0 782.0,453.1 780.0,453.1 778.0,453.1 776.0,453.2 774.0,453.2 772.0,453.3 770.0,453.3 768.0,453.4 766.0,453.6 764.0,453.7 762.0,453.9 760.0,454.0 758.0,454.1 756.0,454.3 754.0,454.4 752.0,454.5 750.0,454.5 748.0,454.6 746.0,454.6 744.0,454.6 742.0,454.7 740.0,454.7 738.0,454.7 736.0,454.8 734.0,454.8 732.0,454.8 730.0,454.8 728.0,454.9 726.0,454.9 724.0,454.8 722.0,454.6 720.0,454.4 718.0,454.1 716.0,453.9 714.0,453.6 712.0,453.3 710.0,453.1 708.0,452.9 706.0,452.8 704.0,452.6 702.0,452.4 700.0,452.2 698.0,452.0 696.0,451.8 694.0,451.7 692.0,451.5 690.0,451.3 688.0,451.0 686.0,450.7 684.0,450.4 682.0,450.1 680.0,449.8 678.0,449.5 676.0,449.2 674.0,448.9 672.0,448.7 670.0,448.9 668.0,449.2 666.0,449.6 664.0,450.0 662.0,450.4 660.0,450.8 658.0,450.8 656.0,450.8 654.0,450.8 652.0,450.8 650.0,450.8 648.0,450.8 646.0,450.7 644.0,450.7 642.0,450.7 640.0,450.7 638.0,450.7 636.0,450.6 634.0,450.6 632.0,450.6 630.0,450.5 628.0,450.6 626.0,450.7 624.0,450.8 622.0,450.8 620.0,450.9 618.0,451.0 616.0,451.0 614.0,451.1 612.0,451.3 610.0,451.4 608.0,451.5 606.0,451.7 604.0,451.8 602.0,451.9 600.0,452.0 598.0,452.0 596.0,451.9" fill="#FFC800"/>
<polygon points="596.0,452.9 598.0,453.0 600.0,453.0 602.0,453.1 604.0,453.1 606.0,453.1 608.0,453.2 610.0,453.2 612.0,453.2 614.0,453.3 616.0,453.3 618.0,453.3 620.0,453.4 622.0,453.4 624.0,453.4 626.0,453.5 628.0,453.5 630.0,453.5 632.0,453.6 634.0,453.6 636.0,453.6 638.0,453.7 640.0,453.7 642.0,453.7 644.0,453.7 646.0,453.7 648.0,453.8 650.0,453.8 652.0,453.8 654.0,453.8 656.0,453.8 658.0,453.8 660.0,453.8 662.0,453.9 664.0,453.9 666.0,453.9 668.0,453.9 670.0,454.0 672.0,454.2 674.0,454.3 676.0,454.4 678.0,454.5 680.0,454.7 682.0,454.8 684.0,454.9 686.0,455.0 688.0,455.2 690.0,455.3 692.0,455.3 694.0,455.4 696.0,455.4 698.0,455.5 700.0,455.5 702.0,455.6 704.0,455.6 706.0,455.7 708.0,455.7 710.0,455.8 712.0,455.8 714.0,455.9 716.0,455.9 718.0,456.0 720.0,456.0 722.0,456.0 724.0,455.9 726.0,455.9 728.0,455.9 730.0,455.8 732.0,455.8 734.0,455.8 736.0,455.8 738.0,455.7 740.0,455.7 742.0,455.7 744.0,455.6 746.0,455.6 748.0,455.6 750.0,455.5 752.0,455.5 754.0,455.4 756.0,455.3 758.0,455.1 760.0,455.0 762.0,454.9 764.0,454.7 766.0,454.6 768.0,454.4 770.0,454.3 772.0,454.3 774.0,454.2 776.0,454.2 778.0,454.1 780.0,454.1 782.0,454.1 784.0,454.0 786.0,454.0 788.0,453.9 790.0,453.9 792.0,453.9 794.0,453.8 796.0,453.8 798.0,453.8 800.0,453.8 802.0,453.8 804.0,453.8 806.0,453.8 808.0,453.8 810.0,453.8 812.0,453.8 814.0,453.8 816.0,453.8 818.0,453.8 820.0,453.8 822.0,453.0 824.0,453.0 826.0,453.0 828.0,453.0 830.0,453.0 832.0,453.0 834.0,453.0 836.0,453.0 838.0,453.0 840.0,453.0 842.0,453.0 844.0,453.0 846.0,452.2 848.0,452.2 850.0,452.2 852.0,452.2 854.0,452.2 856.0,452.2 858.0,452.2 860.0,452.2 862.0,452.2 864.0,452.2 866.0,452.2 868.0,452.2 870.0,452.2 872.0,451.3 874.0,451.3 876.0,451.3 878.0,451.3 880.0,451.3 882.0,451.6 884.0,451.8 884.0,450.8 882.0,450.6 880.0,450.3 878.0,450.3 876.0,450.3 874.0,450.3 872.0,450.3 870.0,451.2 868.0,451.2 866.0,451.2 864.0,451.2 862.0,451.2 860.0,451.2 858.0,451.2 856.0,451.2 854.0,451.2 852.0,451.2 850.0,451.2 848.0,451.2 846.0,450.8 844.0,451.2 842.0,451.2 840.0,451.2 838.0,451.2 836.0,451.2 834.0,451.2 832.0,451.2 830.0,451.2 828.0,451.2 826.0,451.2 824.0,451.2 822.0,450.8 820.0,451.6 818.0,451.6 816.0,451.6 814.0,451.6 812.0,451.6 810.0,452.0 808.0,452.4 806.0,452.8 804.0,452.8 802.0,452.8 800.0,452.8 798.0,452.8 796.0,452.8 794.0,452.8 792.0,452.9 790.0,452.9 788.0,452.9 786.0,453.0 784.0,453.0 782.0,453.1 780.0,453.1 778.0,453.1 776.0,453.2 774.0,453.2 772.0,453.3 770.0,453.3 768.0,453.4 766.0,453.6 764.0,453.7 762.0,453.9 760.0,454.0 758.0,454.1 756.0,454.3 754.0,454.4 752.0,454.5 750.0,454.5 748.0,454.6 746.0,454.6 744.0,454.6 742.0,454.7 740.0,454.7 738.0,454.7 736.0,454.8 734.0,454.8 732.0,454.8 730.0,454.8 728.0,454.9 726.0,454.9 724.0,454.9 722.0,454.7 720.0,454.6 718.0,454.4 716.0,454.2 714.0,454.0 712.0,453.8 710.0,453.7 708.0,453.6 706.0,453.5 704.0,453.4 702.0,453.4 700.0,453.3 698.0,453.2 696.0,453.1 694.0,453.0 692.0,452.9 690.0,452.8 688.0,452.5 686.0,452.2 684.0,451.9 682.0,451.6 680.0,451.3 678.0,451.0 676.0,450.7 674.0,450.4 672.0,450.2 670.0,450.4 668.0,450.6 666.0,450.9 664.0,451.2 662.0,451.5 660.0,451.8 658.0,451.8 656.0,451.8 654.0,451.8 652.0,451.8 650.0,451.8 648.0,451.8 646.0,451.7 644.0,451.7 642.0,451.7 640.0,451.7 638.0,451.7 636.0,451.6 634.0,451.6 632.0,451.6 630.0,451.5 628.0,451.6 626.0,451.6 624.0,451.6 622.0,451.7 620.0,451.7 618.0,451.7 616.0,451.8 614.0,451.8 612.0,451.8 610.0,451.9 608.0,451.9 606.0,451.9 604.0,452.0 602.0,452.0 600.0,452.0 598.0,452.0 596.0,451.9" fill="#FFF500"/>
<polyline points="130.0,447.6 132.5,447.6 135.0,447.6 137.5,447.7 140.0,447.7 142.5,447.7 145.0,447.7 147.5,447.8 150.0,447.8 152.5,447.5 155.0,446.7 157.5,445.8 160.0,445.0 162.5,444.1 165.0,443.3 167.5,442.6 170.0,441.9 172.5,441.2 175.0,440.5 177.5,439.8 180.0,439.1 182.5,438.8 185.0,438.4 187.5,438.1 190.0,437.7 192.5,437.4 195.0,437.1 197.5,436.7 200.0,436.4 202.5,436.1 205.0,435.8 207.5,434.6 210.0,433.5 212.5,432.3 215.0,431.1 217.5,430.0 220.0,428.8 222.5,427.6 225.0,426.4 227.5,425.3 230.0,424.4 232.5,423.7 235.0,423.0 237.5,422.3 240.0,421.6 242.5,420.9 245.0,420.2 247.5,419.5 250.0,418.8 252.5,418.1 255.0,417.3 257.5,416.6 260.0,415.9 262.5,415.1 265.0,414.4 267.5,413.6 270.0,412.8 272.5,412.0 275.0,411.2 277.5,410.4 280.0,410.0 282.5,410.0 285.0,409.9 287.5,409.8 290.0,409.8 292.5,409.7 295.0,409.7 297.5,409.7 300.0,409.7 302.5,409.7 305.0,409.7 307.5,410.7 310.0,411.7 312.5,412.7 315.0,413.7 317.5,414.7 320.0,415.8 322.5,416.8 325.0,417.8 327.5,418.1 330.0,418.1 332.5,418.1 335.0,418.1 337.5,418.1 340.0,418.1 342.5,418.1 345.0,418.1 347.5,418.1 350.0,418.1 352.5,418.1 355.0,418.1 357.5,418.3 360.0,418.8 362.5,419.3 365.0,419.9 367.5,420.4 370.0,420.9 372.5,421.4 375.0,422.1 377.5,422.9 380.0,423.7 382.5,424.4 385.0,425.2 387.5,426.0 390.0,426.8 392.5,427.5 395.0,428.3 397.5,429.1 400.0,429.9 402.5,430.1 405.0,430.2 407.5,430.2 410.0,430.2 412.5,430.3 415.0,430.3 417.5,430.4 420.0,430.4 422.5,430.4 425.0,430.5 427.5,430.6 430.0,430.9 432.5,431.3 435.0,431.6 437.5,432.0 440.0,432.3 442.5,432.5 445.0,432.7 447.5,432.9 450.0,433.1 452.5,433.6 455.0,434.1 457.5,434.6 460.0,435.1 462.5,435.6 465.0,436.1 467.5,436.6 470.0,437.1 472.5,437.6 475.0,438.1 477.5,438.8 480.0,439.5 482.5,440.1 485.0,440.8 487.5,441.5 490.0,442.2 492.5,442.9 495.0,443.5 497.5,444.2 500.0,444.9 502.5,445.3 505.0,445.7 507.5,446.1 510.0,446.5 512.5,446.9 515.0,447.3 517.5,447.7 520.0,448.1 522.5,448.2 525.0,448.4 527.5,448.5 530.0,448.6 532.5,448.7 535.0,448.9 537.5,449.0 540.0,449.1 542.5,449.2 545.0,449.2 547.5,449.3 550.0,449.3 552.5,449.4 555.0,449.5 557.5,449.5 560.0,449.6 562.5,449.6 565.0,449.7" fill="none" stroke="#00E0FF" stroke-width="1.2"/>
<polyline points="565.0,449.7 567.5,449.8 570.0,449.8 572.5,449.9 575.0,450.0 577.5,450.1 580.0,450.2 582.5,450.4 585.0,450.5 587.5,450.6 590.0,450.7 592.5,450.8 595.0,451.0 597.5,451.1 600.0,451.1 602.5,451.2 605.0,451.2 607.5,451.3 610.0,451.3 612.5,451.3 615.0,451.4 617.5,451.4 620.0,451.5 622.5,451.5 625.0,451.6 627.5,451.6 630.0,451.6 632.5,451.7 635.0,451.7 637.5,451.8 640.0,451.8 642.5,451.8 645.0,451.8 647.5,451.9 650.0,451.9 652.5,451.9 655.0,451.9 657.5,451.9 660.0,451.9 662.5,452.0 665.0,452.0 667.5,452.0 670.0,452.1 672.5,452.3 675.0,452.4 677.5,452.6 680.0,452.8 682.5,452.9 685.0,453.1 687.5,453.2 690.0,453.4 692.5,453.5 695.0,453.5 697.5,453.6 700.0,453.6 702.5,453.7 705.0,453.8 707.5,453.8 710.0,453.9 712.5,453.9 715.0,454.0 717.5,454.0 720.0,454.1 722.5,454.1 725.0,454.0 727.5,454.0 730.0,453.9 732.5,453.9 735.0,453.9 737.5,453.8 740.0,453.8 742.5,453.8 745.0,453.7 747.5,453.7 750.0,453.6 752.5,453.6 755.0,453.5 757.5,453.3 760.0,453.1 762.5,452.9 765.0,452.8 767.5,452.6 770.0,452.4 772.5,452.4 775.0,452.3 777.5,452.3 780.0,452.2 782.5,452.2 785.0,452.1 787.5,452.1 790.0,452.0 792.5,452.0 795.0,451.9 797.5,451.9 800.0,451.9 802.5,451.9 805.0,451.9 807.5,451.9 810.0,451.9 812.5,451.9 815.0,451.9 817.5,451.9 820.0,451.9 822.5,451.1 825.0,451.1 827.5,451.1 830.0,451.1 832.5,451.1 835.0,451.1 837.5,451.1 840.0,451.1 842.5,451.1 845.0,451.1 847.5,450.3 850.0,450.3 852.5,450.3 855.0,450.3 857.5,450.3 860.0,450.3 862.5,450.3 865.0,450.3 867.5,450.3 870.0,450.3 872.5,449.4 875.0,449.4 877.5,449.4 880.0,449.4 882.5,449.8 885.0,449.9 887.5,449.8 890.0,449.8" fill="none" stroke="#A0FF50" stroke-width="1.0"/>
<polyline points="890.0,449.8 892.5,449.8 895.0,449.8 897.5,449.7 900.0,449.7 902.5,450.0 905.0,450.3 907.5,450.6 910.0,450.9 912.5,451.2 915.0,451.5 917.5,451.8 920.0,452.1 922.5,452.2 925.0,452.3 927.5,452.4 930.0,452.5 932.5,452.6 935.0,452.7 937.5,452.8 940.0,452.9 942.5,453.0 945.0,453.1 947.5,453.2 950.0,453.2 952.5,453.3 955.0,453.3 957.5,453.4 960.0,453.4 962.5,453.5 965.0,453.5 967.5,453.6 970.0,453.7 972.5,453.8 975.0,453.9 977.5,454.0 980.0,454.0 982.5,454.1 985.0,454.2 987.5,454.3 990.0,454.4 992.5,454.5 995.0,454.6" fill="none" stroke="#00E0FF" stroke-width="1.2"/>
<polyline points="130.0,448.7 132.5,448.7 135.0,448.7 137.5,448.8 140.0,448.8 142.5,448.8 145.0,448.8 147.5,448.9 150.0,448.9 152.5,448.6 155.0,447.8 157.5,446.9 160.0,446.1 162.5,445.2 165.0,444.4 167.5,443.7 170.0,443.0 172.5,442.3 175.0,441.6 177.5,440.9 180.0,440.2 182.5,439.9 185.0,439.5 187.5,439.2 190.0,438.8 192.5,438.5 195.0,438.2 197.5,437.8 200.0,437.5 202.5,437.2 205.0,436.9 207.5,435.7 210.0,434.6 212.5,433.4 215.0,432.2 217.5,431.1 220.0,429.9 222.5,428.7 225.0,427.5 227.5,426.4 230.0,425.5 232.5,424.8 235.0,424.1 237.5,423.4 240.0,422.7 242.5,422.0 245.0,421.3 247.5,420.6 250.0,419.9 252.5,419.2 255.0,418.4 257.5,417.7 260.0,417.0 262.5,416.2 265.0,415.5 267.5,414.7 270.0,413.9 272.5,413.1 275.0,412.3 277.5,411.5 280.0,411.1 282.5,411.1 285.0,411.0 287.5,410.9 290.0,410.9 292.5,410.8 295.0,410.8 297.5,410.8 300.0,410.8 302.5,410.8 305.0,410.8 307.5,411.8 310.0,412.8 312.5,413.8 315.0,414.8 317.5,415.8 320.0,416.9 322.5,417.9 325.0,418.9 327.5,419.2 330.0,419.2 332.5,419.2 335.0,419.2 337.5,419.2 340.0,419.2 342.5,419.2 345.0,419.2 347.5,419.2 350.0,419.2 352.5,419.2 355.0,419.2 357.5,419.4 360.0,419.9 362.5,420.4 365.0,420.9 367.5,421.5 370.0,422.0 372.5,422.5 375.0,423.2 377.5,424.0 380.0,424.8 382.5,425.5 385.0,426.3 387.5,427.1 390.0,427.9 392.5,428.6 395.0,429.4 397.5,430.2 400.0,431.0 402.5,431.2 405.0,431.3 407.5,431.3 410.0,431.3 412.5,431.4 415.0,431.4 417.5,431.5 420.0,431.5 422.5,431.5 425.0,431.6 427.5,431.7 430.0,432.0 432.5,432.4 435.0,432.7 437.5,433.1 440.0,433.4 442.5,433.6 445.0,433.8 447.5,434.0 450.0,434.2 452.5,434.7 455.0,435.2 457.5,435.7 460.0,436.2 462.5,436.7 465.0,437.2 467.5,437.7 470.0,438.2 472.5,438.7 475.0,439.2 477.5,439.9 480.0,440.6 482.5,441.2 485.0,441.9 487.5,442.6 490.0,443.3 492.5,444.0 495.0,444.6 497.5,445.3 500.0,446.0 502.5,446.4 505.0,446.8 507.5,447.2 510.0,447.6 512.5,448.0 515.0,448.4 517.5,448.8 520.0,449.2 522.5,449.3 525.0,449.4 527.5,449.6 530.0,449.7 532.5,449.8 535.0,449.9 537.5,450.1 540.0,450.2 542.5,450.3 545.0,450.3 547.5,450.4 550.0,450.4 552.5,450.5 555.0,450.6 557.5,450.6 560.0,450.7 562.5,450.7 565.0,450.8 567.5,450.9 570.0,450.9 572.5,451.0 575.0,451.1 577.5,451.2 580.0,451.3 582.5,451.5 585.0,451.6 587.5,451.7 590.0,451.8 592.5,451.9 595.0,452.1 597.5,452.2 600.0,452.2 602.5,452.3 605.0,452.3 607.5,452.4 610.0,452.4 612.5,452.4 615.0,452.5 617.5,452.5 620.0,452.6 622.5,452.6 625.0,452.6 627.5,452.7 630.0,452.7 632.5,452.8 635.0,452.8 637.5,452.9 640.0,452.9 642.5,452.9 645.0,452.9 647.5,453.0 650.0,453.0 652.5,453.0 655.0,453.0 657.5,453.0 660.0,453.0 662.5,453.1 665.0,453.1 667.5,453.1 670.0,453.2 672.5,453.4 675.0,453.5 677.5,453.7 680.0,453.9 682.5,454.0 685.0,454.2 687.5,454.3 690.0,454.5 692.5,454.6 695.0,454.6 697.5,454.7 700.0,454.7 702.5,454.8 705.0,454.8 707.5,454.9 710.0,455.0 712.5,455.0 715.0,455.1 717.5,455.1 720.0,455.2 722.5,455.2 725.0,455.1 727.5,455.1 730.0,455.0 732.5,455.0 735.0,455.0 737.5,454.9 740.0,454.9 742.5,454.9 745.0,454.8 747.5,454.8 750.0,454.7 752.5,454.7 755.0,454.6 757.5,454.4 760.0,454.2 762.5,454.0 765.0,453.9 767.5,453.7 770.0,453.5 772.5,453.4 775.0,453.4 777.5,453.4 780.0,453.3 782.5,453.2 785.0,453.2 787.5,453.1 790.0,453.1 792.5,453.1 795.0,453.0 797.5,453.0 800.0,453.0 802.5,453.0 805.0,453.0 807.5,453.0 810.0,453.0 812.5,453.0 815.0,453.0 817.5,453.0 820.0,453.0 822.5,452.2 825.0,452.2 827.5,452.2 830.0,452.2 832.5,452.2 835.0,452.2 837.5,452.2 840.0,452.2 842.5,452.2 845.0,452.2 847.5,451.4 850.0,451.4 852.5,451.4 855.0,451.4 857.5,451.4 860.0,451.4 862.5,451.4 865.0,451.4 867.5,451.4 870.0,451.4 872.5,450.5 875.0,450.5 877.5,450.5 880.0,450.5 882.5,450.9 885.0,451.0 887.5,450.9 890.0,450.9 892.5,450.9 895.0,450.9 897.5,450.8 900.0,450.8 902.5,451.1 905.0,451.4 907.5,451.7 910.0,452.0 912.5,452.3 915.0,452.6 917.5,452.9 920.0,453.2 922.5,453.3 925.0,453.4 927.5,453.5 930.0,453.6 932.5,453.7 935.0,453.8 937.5,453.9 940.0,454.0 942.5,454.1 945.0,454.2 947.5,454.3 950.0,454.3 952.5,454.4 955.0,454.4 957.5,454.5 960.0,454.5 962.5,454.6 965.0,454.6 967.5,454.7 970.0,454.8 972.5,454.9 975.0,455.0 977.5,455.1 980.0,455.1 982.5,455.2 985.0,455.3 987.5,455.4 990.0,455.5 992.5,455.6 995.0,455.7" fill="none" stroke="#0040FF" stroke-width="1.6"/>
<polygon points="130.0,461.0 130.0,448.5 151.7,448.7 165.0,444.2 180.0,440.0 198.3,437.5 205.0,436.7 228.3,425.8 251.7,419.2 263.3,415.8 278.3,411.0 291.7,410.6 305.0,410.6 325.8,419.0 356.7,419.0 373.3,422.5 400.8,431.0 426.7,431.4 440.0,433.2 450.0,434.0 460.0,436.0 475.0,439.0 500.0,445.8 520.0,449.0 540.0,450.0 573.0,450.8 598.0,452.0 640.0,452.7 668.0,452.9 690.0,454.3 720.0,455.0 753.0,454.5 770.0,453.3 795.0,452.8 820.0,452.8 822.0,452.0 845.0,452.0 846.0,451.2 870.0,451.2 872.0,450.3 881.0,450.3 883.0,450.8 900.0,450.6 920.0,453.0 944.0,454.0 968.0,454.5 995.0,455.5 995.0,461.0" fill="#000080"/>
</g>
<g fill="none" stroke="#000" stroke-width="1.35" stroke-linejoin="round">
<path d="M130,149.5 L174.7,149.5 L161.7,152.2 L146.4,157"/>
<path d="M130,159.5 L134,159.5"/>
<path d="M171.4,209.7 L178.3,205.6 L185.3,206.1 L186.1,219.4 L178.9,233.9 L170.8,220 Z"/>
<path d="M566.4,58.3 L591.9,63.3 M604.4,66.7 L687.8,83.9 L648.9,86.7 L622.5,93.1 L601.7,110.6 L622.5,129.2 L632.2,131.9 L598.9,134.2 L565.6,134.7 L548.9,136.7 L528.1,128.6 L498.3,128.6 L494.7,132.8 L516.9,149.4 L510,166.7 L524.7,179.7 L547.5,176.4 M561.4,176.4 L598.9,171.7 L603.1,166.7 L621.1,159.7 L650.3,159.7 L676.7,168.1 L697.5,176.4 L701.7,180.6 L703.6,195.8 L700.3,209.7 L697.5,210.6 L669.7,207.5 L647.5,211.7 L622.5,200.8 L598.9,198.6 L573.3,207.8 L608.6,223.6 L596.1,237.5 L594.7,259.7 M592.8,269.4 L592,276.4 L572.5,321.4 L568.3,344.4 L573.9,350 L598.9,356.9 L604.4,359.7 L622.5,370 L630,373.3 L647.5,379.2 L655.3,388.8 L647.5,393 L630,394.7 L622.5,395.3 L599.2,395.3 L576.7,388.7 L570.8,388.3 L549.2,394.7 L533.3,417 L556.7,428.3 L584.2,439.7 L581.7,445.8 L578,447 M565.8,448 L550,448 L547.5,449.2 L523.3,449.7 L520,451.2"/>
<path d="M602.5,455.8 L599.2,452 L605,447 L624.2,441.7 L633.3,440.8 L612.5,432 L622.5,427.5 L630,426.3 L648.3,422.5 L674.2,422.5 L696.7,415.8 L743.3,408.3 L771.7,398.7 L796.7,395.5 L832.4,395.6 L845.4,396.9 L863.9,404.8 L894.4,412.2 L920.4,415.4 L939.8,407.6 L947.2,407.6 L960.2,421.9 L944.4,428.9 L920.4,423.7 L900.9,429.8 L920.4,435.7 L945.4,435.4 L959.3,441.3 L968.5,444 L977.8,442.2 L988,440.4 L993.5,440.4"/>
<path d="M721.7,457.5 L701.7,455.3 L672.5,448.7 L695.8,437.5 L720.8,437.5 L746.7,432 L763.3,429.5 L829.6,429.6 L837.6,430.7 L821.9,440.9 L844.4,445 L859.3,443.7 L880.6,444.6 L869.4,446.5 L833.3,446.5 L820.4,447.8 L796.7,448 L771.7,451.7 L760,455 L752.5,456.3"/>
<path d="M839.8,454.8 L845.4,453.3 L869.4,453 L881.5,450 L896.3,448.7 L918.5,450 L933.3,451.1 L966.7,451.5 L993.5,454.3"/>
<path d="M861.1,133.3 L868,130.6 L919.4,130.6 L945.8,134.7 L919.4,138.9 L894.4,145 L869.4,143.3 Z"/>
<path d="M782.8,216.1 L795.8,216.1 L800.6,223.6 L800,238.9 L795.8,242.2 L770.8,243.9 L756.9,239.4 L743,224.4 L747.2,215.3 L770.8,215.3"/>
<path d="M140.8,450.3 L137.2,442.8 L138,434.4 L145,424.7 L153.9,420.6 L170,430.3 L178.3,432.2 L188,427.5 L202.8,413.6 L228.3,414.4 L238,413.6 M250.6,412.2 L257.5,414.4 L262.2,417.8"/>
<path d="M150,442.8 L153.8,439.4 L158.3,439.8 L160.8,441 L162,444.8 L153.8,449.4 L151.7,448.2 L150.8,444 Z"/>
<path d="M195.4,432.8 L203.3,428.6 L213.3,428.2 L204.2,437 L201.7,437 Z"/>
</g>
<g fill="none" stroke="#000" stroke-width="1.25" stroke-dasharray="1.4 3.8">
<polyline points="207.5,59.2 211.7,68 217.2,77.8 227,86.1 236.7,80.6 242.2,73.6 247.8,61.1"/>
<polyline points="267.2,59.2 278.3,64.4"/>
<polyline points="295,61.1 302,60.6 311.7,63.9 328.3,71.7 339.4,70.8 353.3,69.4 370,74.4 386.7,80 395,83.3 378.3,88.9 361.7,98.6 343.6,111.1 349.2,112.5"/>
<polyline points="361.7,117.2 375.6,122.8 386.7,129.2 406.1,138.9 421,148.6 423.9,154.2 412.8,158.9 397.8,166.7 410,175 426.7,183.3 451.7,193.9 465.6,192.2 486.4,193"/>
<polyline points="504.4,199.4 511.4,207 512.2,211.1 511.4,220.8 504.4,229.2 496.1,233.3"/>
<polyline points="482.2,234.2 451.1,234.7 449.7,247.2 454.4,258.3 460.8,266.7 457.2,272.2 443.3,280.6 430.8,287.5 418.3,293.6 408.9,297.2 399.2,298.6 386.7,288.9 377,280 371.4,279.7"/>
<polyline points="363,280 350.6,280 342.2,266.7 336.7,257 325.6,250"/>
<polyline points="317.2,252.8 308.9,254.7 303.3,258.9 292.2,258.3 279.7,254.2 281.7,238.9 289.4,230.6 300.6,223.6 314.4,221.4 327,220 332.5,212.5 332.5,201.4 314.4,200.6 303.3,201.4 297.8,198.6"/>
<polyline points="156,203.3 175.6,197.2 189.4,197.8 203.3,200.8"/>
<polyline points="213,198.6 228.3,194.4 239.4,195.8 253.3,200 264.4,198.6 283.9,197.2"/>
<polyline points="275,103 280,103.5 281,116 280,129 275,128.5 274,116 275,103"/>
<polyline points="202,111 205,110"/>
<polyline points="138,128.6 154.7,124.4 164.4,127.8 179.7,133.3 189.4,140.3 197.8,148.6 190.8,155.6 179.7,161.1 170,164.4 150.6,168.9 131,173.6"/>
<polyline points="270,165.4 277.5,165.4"/>
<polyline points="290.4,163.5 295.6,162.4 301,161.5 305.6,163.4 308,166.5 308.5,171.4 308.9,176.5 304.4,179.4 300.4,180.4"/>
<polyline points="271,181.4 260,182.4 254.4,183.4 250.4,182.4 247.8,178.6 247.8,173.4 247.8,168.5 251,166.5 257,166.5"/>
<polyline points="199,178 203,176.4 211.7,179"/>
<polyline points="202.8,249.4 214.4,246.7 224.2,245.3"/>
<polyline points="204.7,252.8 217.2,248.6"/>
<polyline points="280.6,401.7 286.7,395.6 293.3,389.7 297.5,386.3 301.7,383.3 306.7,384.5 312.5,386.3 315.8,387.3"/>
<polyline points="326.7,390.3 330.5,390.3 335.3,388.3 340,386.3"/>
<polyline points="349.5,383.3 354.2,384.5 358,387.3 362,390.3 366.7,393.3 370.5,395.5 375,397.5 380,398.3 400,397.5"/>
<polyline points="408.7,400.5 413.8,401.3"/>
<polyline points="428.8,404.5 430,404.6"/>
<polyline points="448.8,405.3 453.3,407.5 457.5,410.5 461.7,413.3 468.3,418.3 478.3,422.5 488.3,426.7 496.7,429.2"/>
<polyline points="507.5,432.5 512.5,433.3"/>
<polyline points="521.7,436.3 522.8,436.6"/>
<polyline points="530,440.3 535.8,442.5 538.3,444.5 518.3,444.5"/>
<polyline points="298.3,408.3 299.5,408.5"/>
<polyline points="307.5,411.3 312.5,413.7 318.3,415.3 321.7,416.7 326.7,418.3"/>
<polyline points="337.2,419.5 338.4,419.5"/>
<polyline points="346.7,420.3 352,421.3"/>
<polyline points="356.7,420 376.7,420.3 381.3,422.5 386.2,424.5 391.3,426.7 395.8,428.7"/>
<polyline points="405,430.3 425,430.3 430.8,431.3"/>
<polyline points="444.2,434.2 445.4,434.4"/>
<polyline points="454.2,436.3 455.4,436.5"/>
<polyline points="464.2,437.5 473.3,438.3 485,440.8 494.2,442.5 504.2,443.3"/>
<polyline points="281,402.5 289.4,406 299,408"/>
<polyline points="176.3,409.4 177.8,409.4"/>
<polyline points="179.3,409.4 180.8,409.4"/>
<polyline points="178.3,405 179.5,404.5 180.8,405.5"/>
<polyline points="351.3,410.3 352.5,410.3"/>
</g>
<rect x="128" y="58" width="2" height="392" fill="#000"/>
<line x1="130.5" y1="60" x2="130.5" y2="450" stroke="#000" stroke-width="1" stroke-dasharray="1 4" shape-rendering="crispEdges"/>
<rect x="128" y="149" width="3" height="11" fill="#000"/>
<g fill="#fff" shape-rendering="crispEdges">
<rect x="130" y="57" width="865" height="1"/>
<rect x="994" y="57" width="1" height="404"/>
<rect x="130" y="460" width="865" height="1"/>
<rect x="130" y="452" width="1" height="8"/>
<rect x="154" y="456" width="1" height="4"/>
<rect x="179" y="456" width="1" height="4"/>
<rect x="204" y="456" width="1" height="4"/>
<rect x="228" y="456" width="1" height="4"/>
<rect x="253" y="452" width="1" height="8"/>
<rect x="278" y="456" width="1" height="4"/>
<rect x="302" y="456" width="1" height="4"/>
<rect x="327" y="456" width="1" height="4"/>
<rect x="352" y="456" width="1" height="4"/>
<rect x="376" y="452" width="1" height="8"/>
<rect x="401" y="456" width="1" height="4"/>
<rect x="426" y="456" width="1" height="4"/>
<rect x="450" y="456" width="1" height="4"/>
<rect x="475" y="456" width="1" height="4"/>
<rect x="500" y="452" width="1" height="8"/>
<rect x="524" y="456" width="1" height="4"/>
<rect x="549" y="456" width="1" height="4"/>
<rect x="574" y="456" width="1" height="4"/>
<rect x="599" y="456" width="1" height="4"/>
<rect x="623" y="453" width="1" height="7"/>
<rect x="648" y="456" width="1" height="4"/>
<rect x="673" y="456" width="1" height="4"/>
<rect x="697" y="456" width="1" height="4"/>
<rect x="722" y="456" width="1" height="4"/>
<rect x="747" y="455" width="1" height="5"/>
<rect x="771" y="456" width="1" height="4"/>
<rect x="796" y="456" width="1" height="4"/>
<rect x="821" y="456" width="1" height="4"/>
<rect x="845" y="456" width="1" height="4"/>
<rect x="870" y="452" width="1" height="8"/>
<rect x="895" y="456" width="1" height="4"/>
<rect x="919" y="456" width="1" height="4"/>
<rect x="944" y="456" width="1" height="4"/>
<rect x="969" y="456" width="1" height="4"/>
<rect x="994" y="456" width="1" height="4"/>
<rect x="130" y="500" width="865" height="1"/>
</g>
<rect x="130" y="501" width="868" height="6" fill="url(#cb)"/>
<g font-family="Liberation Sans, sans-serif" font-size="11.5px" fill="#000" text-anchor="middle" filter="url(#crisp2)">
<text x="139.4" y="162.0">0</text>
<text x="598.9" y="68.0">0</text>
<text x="553.7" y="178.3">0</text>
<text x="777.1" y="218.0">0</text>
<text x="243.8" y="415.8">0</text>
<text x="571.9" y="450.7">0</text>
<text x="285.3" y="183" textLength="23.3" lengthAdjust="spacingAndGlyphs">−10</text>
<text x="736" y="461.3" textLength="24.5" lengthAdjust="spacingAndGlyphs">−10</text>
</g>
<ellipse cx="173" cy="212" rx="3.4" ry="2.3" fill="none" stroke="#000"/>
<ellipse cx="593.6" cy="264" rx="3.8" ry="2.4" fill="none" stroke="#000"/>
<g font-family="Liberation Sans, sans-serif" fill="#fff" filter="url(#crisp)">
<text x="304.0" y="50.0" font-size="15.5px" textLength="64.5" lengthAdjust="spacingAndGlyphs">OXPROD</text>
<text x="378.5" y="50.0" font-size="15.5px" textLength="96.3" lengthAdjust="spacingAndGlyphs">Longitudinal</text>
<text x="484.8" y="50.0" font-size="15.5px" textLength="82.2" lengthAdjust="spacingAndGlyphs">X−Section</text>
<text x="578.5" y="50.0" font-size="15.5px" textLength="33.8" lengthAdjust="spacingAndGlyphs">78hr</text>
<text x="633.0" y="50.0" font-size="15.5px" textLength="15.5" lengthAdjust="spacingAndGlyphs">Fx</text>
<text x="659.0" y="50.0" font-size="15.5px" textLength="35.8" lengthAdjust="spacingAndGlyphs">Valid</text>
<text x="707.3" y="50.0" font-size="15.5px" textLength="28.2" lengthAdjust="spacingAndGlyphs">18Z</text>
<text x="746.0" y="50.0" font-size="15.5px" textLength="82.0" lengthAdjust="spacingAndGlyphs">20251220</text>
<text x="125" y="66.0" font-size="14px" text-anchor="end">20</text>
<text x="125" y="162.5" font-size="14px" text-anchor="end">15</text>
<text x="125" y="263.5" font-size="14px" text-anchor="end">10</text>
<text x="125" y="364.0" font-size="14px" text-anchor="end">5</text>
<text x="125" y="461.0" font-size="14px" text-anchor="end">0</text>
<text x="114.0" y="479" font-size="14px" textLength="33.0" lengthAdjust="spacingAndGlyphs">−115</text>
<text x="237.4" y="479" font-size="14px" textLength="33.0" lengthAdjust="spacingAndGlyphs">−110</text>
<text x="360.9" y="479" font-size="14px" textLength="33.0" lengthAdjust="spacingAndGlyphs">−105</text>
<text x="484.3" y="479" font-size="14px" textLength="33.0" lengthAdjust="spacingAndGlyphs">−100</text>
<text x="611.5" y="479" font-size="14px" textLength="25.5" lengthAdjust="spacingAndGlyphs">−95</text>
<text x="734.9" y="479" font-size="14px" textLength="25.5" lengthAdjust="spacingAndGlyphs">−90</text>
<text x="858.3" y="479" font-size="14px" textLength="25.5" lengthAdjust="spacingAndGlyphs">−85</text>
<text x="981.8" y="479" font-size="14px" textLength="25.5" lengthAdjust="spacingAndGlyphs">−80</text>
<text x="561.5" y="494" font-size="12.5px" text-anchor="middle" textLength="61" lengthAdjust="spacingAndGlyphs">Longitude</text>
<text transform="translate(97.7,302) rotate(-90)" font-size="14px" textLength="47" lengthAdjust="spacingAndGlyphs">Altitude</text>
<text transform="translate(97.7,244.8) rotate(-90)" font-size="14px" textLength="28" lengthAdjust="spacingAndGlyphs">(km)</text>
<text x="115.0" y="525" font-size="14px" textLength="30.0" lengthAdjust="spacingAndGlyphs">−1.0</text>
<text x="331.0" y="525" font-size="14px" textLength="30.0" lengthAdjust="spacingAndGlyphs">−0.5</text>
<text x="551.7" y="525" font-size="14px" textLength="19.6" lengthAdjust="spacingAndGlyphs">0.0</text>
<text x="768.2" y="525" font-size="14px" textLength="19.6" lengthAdjust="spacingAndGlyphs">0.5</text>
<text x="983.2" y="525" font-size="14px" textLength="19.6" lengthAdjust="spacingAndGlyphs">1.0</text>
<text x="561.5" y="540.5" font-size="14px" text-anchor="middle" textLength="64" lengthAdjust="spacingAndGlyphs">(ppbv/hr)</text>
<text x="141.4" y="561.6" font-size="20.5px" textLength="20.5" lengthAdjust="spacingAndGlyphs">LA</text>
<text x="173.5" y="561.6" font-size="20.5px" textLength="60.3" lengthAdjust="spacingAndGlyphs">(34°N)</text>
<text x="247.2" y="561.6" font-size="20.5px" textLength="88.5" lengthAdjust="spacingAndGlyphs">Initialized</text>
<text x="350.9" y="561.6" font-size="20.5px" textLength="33.4" lengthAdjust="spacingAndGlyphs">12Z</text>
<text x="397.0" y="561.6" font-size="20.5px" textLength="98.2" lengthAdjust="spacingAndGlyphs">20251217</text>
</g>
</svg>
</body></html>
